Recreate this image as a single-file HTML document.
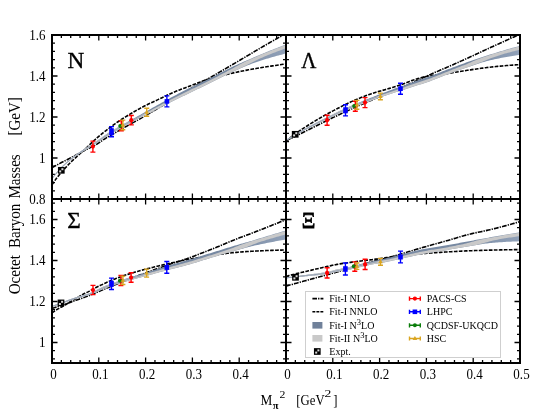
<!DOCTYPE html>
<html><head><meta charset="utf-8"><title>Octet Baryon Masses</title>
<style>
html,body{margin:0;padding:0;background:#fff;}
body{width:545px;height:418px;position:relative;overflow:hidden;font-family:"Liberation Serif",serif;}
</style></head><body>
<svg width="545" height="418" viewBox="0 0 545 418" style="position:absolute;left:0;top:0;will-change:transform">
<defs>
<clipPath id="cN"><rect x="52" y="35" width="234" height="164"/></clipPath>
<linearGradient id="gN" gradientUnits="userSpaceOnUse" x1="52" y1="0" x2="286" y2="0"><stop offset="0" stop-color="#8c9bb0"/><stop offset="0.3" stop-color="#7a8ba4"/><stop offset="0.8" stop-color="#7688a1"/><stop offset="0.9" stop-color="#8798b0"/><stop offset="1" stop-color="#90a0b7"/></linearGradient>
<clipPath id="cL"><rect x="286" y="35" width="234" height="164"/></clipPath>
<linearGradient id="gL" gradientUnits="userSpaceOnUse" x1="286" y1="0" x2="520" y2="0"><stop offset="0" stop-color="#8c9bb0"/><stop offset="0.3" stop-color="#7a8ba4"/><stop offset="0.8" stop-color="#7688a1"/><stop offset="0.9" stop-color="#8798b0"/><stop offset="1" stop-color="#90a0b7"/></linearGradient>
<clipPath id="cS"><rect x="52" y="199" width="234" height="164"/></clipPath>
<linearGradient id="gS" gradientUnits="userSpaceOnUse" x1="52" y1="0" x2="286" y2="0"><stop offset="0" stop-color="#8c9bb0"/><stop offset="0.3" stop-color="#7a8ba4"/><stop offset="0.8" stop-color="#7688a1"/><stop offset="0.9" stop-color="#8798b0"/><stop offset="1" stop-color="#90a0b7"/></linearGradient>
<clipPath id="cX"><rect x="286" y="199" width="234" height="164"/></clipPath>
<linearGradient id="gX" gradientUnits="userSpaceOnUse" x1="286" y1="0" x2="520" y2="0"><stop offset="0" stop-color="#8c9bb0"/><stop offset="0.3" stop-color="#7a8ba4"/><stop offset="0.8" stop-color="#7688a1"/><stop offset="0.9" stop-color="#8798b0"/><stop offset="1" stop-color="#90a0b7"/></linearGradient>
</defs>
<path d="M52.00,35v5.5 M52.00,193.5v11.0 M52.00,363v-5.5 M61.36,35v3.0 M61.36,196.0v6.0 M61.36,363v-3.0 M70.72,35v3.0 M70.72,196.0v6.0 M70.72,363v-3.0 M80.08,35v3.0 M80.08,196.0v6.0 M80.08,363v-3.0 M89.44,35v3.0 M89.44,196.0v6.0 M89.44,363v-3.0 M98.80,35v5.5 M98.80,193.5v11.0 M98.80,363v-5.5 M108.16,35v3.0 M108.16,196.0v6.0 M108.16,363v-3.0 M117.52,35v3.0 M117.52,196.0v6.0 M117.52,363v-3.0 M126.88,35v3.0 M126.88,196.0v6.0 M126.88,363v-3.0 M136.24,35v3.0 M136.24,196.0v6.0 M136.24,363v-3.0 M145.60,35v5.5 M145.60,193.5v11.0 M145.60,363v-5.5 M154.96,35v3.0 M154.96,196.0v6.0 M154.96,363v-3.0 M164.32,35v3.0 M164.32,196.0v6.0 M164.32,363v-3.0 M173.68,35v3.0 M173.68,196.0v6.0 M173.68,363v-3.0 M183.04,35v3.0 M183.04,196.0v6.0 M183.04,363v-3.0 M192.40,35v5.5 M192.40,193.5v11.0 M192.40,363v-5.5 M201.76,35v3.0 M201.76,196.0v6.0 M201.76,363v-3.0 M211.12,35v3.0 M211.12,196.0v6.0 M211.12,363v-3.0 M220.48,35v3.0 M220.48,196.0v6.0 M220.48,363v-3.0 M229.84,35v3.0 M229.84,196.0v6.0 M229.84,363v-3.0 M239.20,35v5.5 M239.20,193.5v11.0 M239.20,363v-5.5 M248.56,35v3.0 M248.56,196.0v6.0 M248.56,363v-3.0 M257.92,35v3.0 M257.92,196.0v6.0 M257.92,363v-3.0 M267.28,35v3.0 M267.28,196.0v6.0 M267.28,363v-3.0 M276.64,35v3.0 M276.64,196.0v6.0 M276.64,363v-3.0 M286.00,35v5.5 M286.00,193.5v11.0 M286.00,363v-5.5 M286.00,35v5.5 M286.00,193.5v11.0 M286.00,363v-5.5 M295.36,35v3.0 M295.36,196.0v6.0 M295.36,363v-3.0 M304.72,35v3.0 M304.72,196.0v6.0 M304.72,363v-3.0 M314.08,35v3.0 M314.08,196.0v6.0 M314.08,363v-3.0 M323.44,35v3.0 M323.44,196.0v6.0 M323.44,363v-3.0 M332.80,35v5.5 M332.80,193.5v11.0 M332.80,363v-5.5 M342.16,35v3.0 M342.16,196.0v6.0 M342.16,363v-3.0 M351.52,35v3.0 M351.52,196.0v6.0 M351.52,363v-3.0 M360.88,35v3.0 M360.88,196.0v6.0 M360.88,363v-3.0 M370.24,35v3.0 M370.24,196.0v6.0 M370.24,363v-3.0 M379.60,35v5.5 M379.60,193.5v11.0 M379.60,363v-5.5 M388.96,35v3.0 M388.96,196.0v6.0 M388.96,363v-3.0 M398.32,35v3.0 M398.32,196.0v6.0 M398.32,363v-3.0 M407.68,35v3.0 M407.68,196.0v6.0 M407.68,363v-3.0 M417.04,35v3.0 M417.04,196.0v6.0 M417.04,363v-3.0 M426.40,35v5.5 M426.40,193.5v11.0 M426.40,363v-5.5 M435.76,35v3.0 M435.76,196.0v6.0 M435.76,363v-3.0 M445.12,35v3.0 M445.12,196.0v6.0 M445.12,363v-3.0 M454.48,35v3.0 M454.48,196.0v6.0 M454.48,363v-3.0 M463.84,35v3.0 M463.84,196.0v6.0 M463.84,363v-3.0 M473.20,35v5.5 M473.20,193.5v11.0 M473.20,363v-5.5 M482.56,35v3.0 M482.56,196.0v6.0 M482.56,363v-3.0 M491.92,35v3.0 M491.92,196.0v6.0 M491.92,363v-3.0 M501.28,35v3.0 M501.28,196.0v6.0 M501.28,363v-3.0 M510.64,35v3.0 M510.64,196.0v6.0 M510.64,363v-3.0 M520.00,35v5.5 M520.00,193.5v11.0 M520.00,363v-5.5 M52,35.00h5.5 M280.5,35.00h11.0 M520,35.00h-5.5 M52,43.20h3.0 M283.0,43.20h6.0 M520,43.20h-3.0 M52,51.40h3.0 M283.0,51.40h6.0 M520,51.40h-3.0 M52,59.60h3.0 M283.0,59.60h6.0 M520,59.60h-3.0 M52,67.80h3.0 M283.0,67.80h6.0 M520,67.80h-3.0 M52,76.00h5.5 M280.5,76.00h11.0 M520,76.00h-5.5 M52,84.20h3.0 M283.0,84.20h6.0 M520,84.20h-3.0 M52,92.40h3.0 M283.0,92.40h6.0 M520,92.40h-3.0 M52,100.60h3.0 M283.0,100.60h6.0 M520,100.60h-3.0 M52,108.80h3.0 M283.0,108.80h6.0 M520,108.80h-3.0 M52,117.00h5.5 M280.5,117.00h11.0 M520,117.00h-5.5 M52,125.20h3.0 M283.0,125.20h6.0 M520,125.20h-3.0 M52,133.40h3.0 M283.0,133.40h6.0 M520,133.40h-3.0 M52,141.60h3.0 M283.0,141.60h6.0 M520,141.60h-3.0 M52,149.80h3.0 M283.0,149.80h6.0 M520,149.80h-3.0 M52,158.00h5.5 M280.5,158.00h11.0 M520,158.00h-5.5 M52,166.20h3.0 M283.0,166.20h6.0 M520,166.20h-3.0 M52,174.40h3.0 M283.0,174.40h6.0 M520,174.40h-3.0 M52,182.60h3.0 M283.0,182.60h6.0 M520,182.60h-3.0 M52,190.80h3.0 M283.0,190.80h6.0 M520,190.80h-3.0 M52,199.00h5.5 M280.5,199.00h11.0 M520,199.00h-5.5 M52,203.10h3.0 M283.0,203.10h6.0 M520,203.10h-3.0 M52,211.30h3.0 M283.0,211.30h6.0 M520,211.30h-3.0 M52,219.50h5.5 M280.5,219.50h11.0 M520,219.50h-5.5 M52,227.70h3.0 M283.0,227.70h6.0 M520,227.70h-3.0 M52,235.90h3.0 M283.0,235.90h6.0 M520,235.90h-3.0 M52,244.10h3.0 M283.0,244.10h6.0 M520,244.10h-3.0 M52,252.30h3.0 M283.0,252.30h6.0 M520,252.30h-3.0 M52,260.50h5.5 M280.5,260.50h11.0 M520,260.50h-5.5 M52,268.70h3.0 M283.0,268.70h6.0 M520,268.70h-3.0 M52,276.90h3.0 M283.0,276.90h6.0 M520,276.90h-3.0 M52,285.10h3.0 M283.0,285.10h6.0 M520,285.10h-3.0 M52,293.30h3.0 M283.0,293.30h6.0 M520,293.30h-3.0 M52,301.50h5.5 M280.5,301.50h11.0 M520,301.50h-5.5 M52,309.70h3.0 M283.0,309.70h6.0 M520,309.70h-3.0 M52,317.90h3.0 M283.0,317.90h6.0 M520,317.90h-3.0 M52,326.10h3.0 M283.0,326.10h6.0 M520,326.10h-3.0 M52,334.30h3.0 M283.0,334.30h6.0 M520,334.30h-3.0 M52,342.50h5.5 M280.5,342.50h11.0 M520,342.50h-5.5 M52,350.70h3.0 M283.0,350.70h6.0 M520,350.70h-3.0 M52,358.90h3.0 M283.0,358.90h6.0 M520,358.90h-3.0" stroke="#000" stroke-width="1.3" fill="none"/>
<g clip-path="url(#cN)">
<path d="M52.00,167.70 L53.50,166.87 L55.00,166.05 L56.50,165.23 L58.00,164.42 L59.50,163.62 L61.00,162.83 L62.50,162.04 L64.00,161.27 L65.50,160.51 L67.00,159.76 L68.50,159.00 L70.00,158.24 L71.50,157.47 L73.00,156.68 L74.50,155.86 L76.00,155.03 L77.50,154.19 L79.00,153.35 L80.50,152.52 L82.00,151.71 L83.50,150.93 L85.00,150.17 L86.50,149.44 L88.00,148.71 L89.50,147.99 L91.00,147.25 L92.50,146.50 L94.00,145.71 L95.50,144.89 L97.00,144.00 L98.50,143.04 L100.00,142.03 L101.50,141.00 L103.00,139.96 L104.50,138.96 L106.00,138.00 L107.50,137.10 L109.00,136.22 L110.50,135.37 L112.00,134.53 L113.50,133.68 L115.00,132.83 L116.50,131.97 L118.00,131.11 L119.50,130.24 L121.00,129.38 L122.50,128.52 L124.00,127.67 L125.50,126.81 L127.00,125.96 L128.50,125.11 L130.00,124.26 L131.50,123.43 L133.00,122.60 L134.50,121.77 L136.00,120.95 L137.50,120.13 L139.00,119.30 L140.50,118.47 L142.00,117.63 L143.50,116.79 L145.00,115.93 L146.50,115.05 L148.00,114.18 L149.50,113.29 L151.00,112.40 L152.50,111.51 L154.00,110.61 L155.50,109.71 L157.00,108.81 L158.50,107.92 L160.00,107.03 L161.50,106.13 L163.00,105.23 L164.50,104.34 L166.00,103.44 L167.50,102.54 L169.00,101.64 L170.50,100.74 L172.00,99.84 L173.50,98.94 L175.00,98.04 L176.50,97.13 L178.00,96.22 L179.50,95.30 L181.00,94.39 L182.50,93.48 L184.00,92.57 L185.50,91.66 L187.00,90.77 L188.50,89.88 L190.00,89.00 L191.50,88.13 L193.00,87.28 L194.50,86.43 L196.00,85.58 L197.50,84.75 L199.00,83.91 L200.50,83.08 L202.00,82.24 L203.50,81.41 L205.00,80.56 L206.50,79.71 L208.00,78.86 L209.50,77.99 L211.00,77.13 L212.50,76.26 L214.00,75.39 L215.50,74.52 L217.00,73.65 L218.50,72.78 L220.00,71.90 L221.50,71.02 L223.00,70.14 L224.50,69.26 L226.00,68.38 L227.50,67.50 L229.00,66.62 L230.50,65.73 L232.00,64.85 L233.50,63.97 L235.00,63.09 L236.50,62.21 L238.00,61.32 L239.50,60.44 L241.00,59.55 L242.50,58.66 L244.00,57.77 L245.50,56.88 L247.00,55.99 L248.50,55.10 L250.00,54.21 L251.50,53.32 L253.00,52.44 L254.50,51.55 L256.00,50.67 L257.50,49.79 L259.00,48.92 L260.50,48.04 L262.00,47.16 L263.50,46.29 L265.00,45.41 L266.50,44.54 L268.00,43.67 L269.50,42.80 L271.00,41.93 L272.50,41.06 L274.00,40.20 L275.50,39.35 L277.00,38.49 L278.50,37.64 L280.00,36.80 L281.50,35.96 L283.00,35.14 L284.50,34.32 L286.00,33.50" fill="none" stroke="#000" stroke-width="1.6" stroke-dasharray="4.8,1.1,1.3,1.1"/>
<path d="M52.00,184.80 L53.50,182.53 L55.00,180.37 L56.50,178.34 L58.00,176.42 L59.50,174.60 L61.00,172.83 L62.50,171.13 L64.00,169.47 L65.50,167.82 L67.00,166.17 L68.50,164.55 L70.00,163.00 L71.50,161.53 L73.00,160.11 L74.50,158.72 L76.00,157.34 L77.50,155.97 L79.00,154.61 L80.50,153.26 L82.00,151.90 L83.50,150.51 L85.00,149.12 L86.50,147.71 L88.00,146.30 L89.50,144.87 L91.00,143.42 L92.50,141.99 L94.00,140.60 L95.50,139.26 L97.00,137.94 L98.50,136.66 L100.00,135.40 L101.50,134.17 L103.00,132.96 L104.50,131.77 L106.00,130.60 L107.50,129.43 L109.00,128.26 L110.50,127.10 L112.00,125.96 L113.50,124.86 L115.00,123.79 L116.50,122.75 L118.00,121.73 L119.50,120.73 L121.00,119.74 L122.50,118.77 L124.00,117.82 L125.50,116.88 L127.00,115.96 L128.50,115.04 L130.00,114.14 L131.50,113.25 L133.00,112.37 L134.50,111.50 L136.00,110.64 L137.50,109.80 L139.00,108.96 L140.50,108.15 L142.00,107.35 L143.50,106.56 L145.00,105.79 L146.50,105.04 L148.00,104.31 L149.50,103.59 L151.00,102.89 L152.50,102.19 L154.00,101.49 L155.50,100.80 L157.00,100.10 L158.50,99.39 L160.00,98.68 L161.50,97.96 L163.00,97.24 L164.50,96.51 L166.00,95.79 L167.50,95.07 L169.00,94.37 L170.50,93.68 L172.00,93.01 L173.50,92.36 L175.00,91.73 L176.50,91.11 L178.00,90.51 L179.50,89.92 L181.00,89.34 L182.50,88.77 L184.00,88.20 L185.50,87.63 L187.00,87.07 L188.50,86.51 L190.00,85.95 L191.50,85.39 L193.00,84.82 L194.50,84.24 L196.00,83.65 L197.50,83.07 L199.00,82.48 L200.50,81.91 L202.00,81.35 L203.50,80.80 L205.00,80.28 L206.50,79.78 L208.00,79.32 L209.50,78.87 L211.00,78.43 L212.50,78.01 L214.00,77.60 L215.50,77.21 L217.00,76.82 L218.50,76.44 L220.00,76.06 L221.50,75.69 L223.00,75.33 L224.50,74.97 L226.00,74.61 L227.50,74.25 L229.00,73.90 L230.50,73.54 L232.00,73.19 L233.50,72.85 L235.00,72.52 L236.50,72.19 L238.00,71.88 L239.50,71.56 L241.00,71.26 L242.50,70.96 L244.00,70.67 L245.50,70.38 L247.00,70.10 L248.50,69.83 L250.00,69.57 L251.50,69.32 L253.00,69.07 L254.50,68.81 L256.00,68.56 L257.50,68.30 L259.00,68.05 L260.50,67.79 L262.00,67.54 L263.50,67.30 L265.00,67.05 L266.50,66.81 L268.00,66.57 L269.50,66.34 L271.00,66.11 L272.50,65.88 L274.00,65.65 L275.50,65.42 L277.00,65.20 L278.50,64.98 L280.00,64.76 L281.50,64.54 L283.00,64.33 L284.50,64.11 L286.00,63.90" fill="none" stroke="#000" stroke-width="1.6" stroke-dasharray="3.7,1.3"/>
<path d="M52.00,178.30 L53.50,176.31 L55.00,174.39 L56.50,172.55 L58.00,170.77 L59.50,169.05 L61.00,167.42 L62.50,165.91 L64.00,164.47 L65.50,163.08 L67.00,161.75 L68.50,160.46 L70.00,159.22 L71.50,158.01 L73.00,156.83 L74.50,155.69 L76.00,154.60 L77.50,153.53 L79.00,152.48 L80.50,151.45 L82.00,150.43 L83.50,149.43 L85.00,148.46 L86.50,147.51 L88.00,146.58 L89.50,145.65 L91.00,144.73 L92.50,143.80 L94.00,142.85 L95.50,141.87 L97.00,140.86 L98.50,139.81 L100.00,138.73 L101.50,137.64 L103.00,136.56 L104.50,135.51 L106.00,134.49 L107.50,133.51 L109.00,132.55 L110.50,131.61 L112.00,130.69 L113.50,129.79 L115.00,128.90 L116.50,128.02 L118.00,127.16 L119.50,126.31 L121.00,125.47 L122.50,124.64 L124.00,123.81 L125.50,122.99 L127.00,122.16 L128.50,121.33 L130.00,120.49 L131.50,119.65 L133.00,118.81 L134.50,117.98 L136.00,117.14 L137.50,116.30 L139.00,115.46 L140.50,114.63 L142.00,113.79 L143.50,112.94 L145.00,112.09 L146.50,111.24 L148.00,110.39 L149.50,109.54 L151.00,108.69 L152.50,107.85 L154.00,107.00 L155.50,106.16 L157.00,105.32 L158.50,104.48 L160.00,103.64 L161.50,102.80 L163.00,101.97 L164.50,101.13 L166.00,100.30 L167.50,99.47 L169.00,98.65 L170.50,97.83 L172.00,97.02 L173.50,96.22 L175.00,95.43 L176.50,94.64 L178.00,93.86 L179.50,93.08 L181.00,92.31 L182.50,91.56 L184.00,90.82 L185.50,90.09 L187.00,89.36 L188.50,88.62 L190.00,87.89 L191.50,87.16 L193.00,86.43 L194.50,85.70 L196.00,84.98 L197.50,84.26 L199.00,83.54 L200.50,82.81 L202.00,82.09 L203.50,81.37 L205.00,80.64 L206.50,79.91 L208.00,79.17 L209.50,78.43 L211.00,77.68 L212.50,76.92 L214.00,76.16 L215.50,75.39 L217.00,74.62 L218.50,73.85 L220.00,73.08 L221.50,72.31 L223.00,71.54 L224.50,70.77 L226.00,70.00 L227.50,69.24 L229.00,68.49 L230.50,67.75 L232.00,67.02 L233.50,66.30 L235.00,65.59 L236.50,64.90 L238.00,64.22 L239.50,63.55 L241.00,62.88 L242.50,62.22 L244.00,61.57 L245.50,60.93 L247.00,60.29 L248.50,59.66 L250.00,59.04 L251.50,58.42 L253.00,57.78 L254.50,57.12 L256.00,56.47 L257.50,55.83 L259.00,55.20 L260.50,54.57 L262.00,53.94 L263.50,53.32 L265.00,52.71 L266.50,52.10 L268.00,51.48 L269.50,50.87 L271.00,50.26 L272.50,49.65 L274.00,49.06 L275.50,48.46 L277.00,47.88 L278.50,47.30 L280.00,46.72 L281.50,46.16 L283.00,45.60 L284.50,45.05 L286.00,44.50 L286.00,53.50 L284.50,53.87 L283.00,54.25 L281.50,54.64 L280.00,55.03 L278.50,55.43 L277.00,55.83 L275.50,56.25 L274.00,56.67 L272.50,57.09 L271.00,57.52 L269.50,57.96 L268.00,58.40 L266.50,58.85 L265.00,59.32 L263.50,59.80 L262.00,60.28 L260.50,60.76 L259.00,61.25 L257.50,61.75 L256.00,62.25 L254.50,62.76 L253.00,63.27 L251.50,63.82 L250.00,64.41 L248.50,65.00 L247.00,65.61 L245.50,66.22 L244.00,66.84 L242.50,67.47 L241.00,68.10 L239.50,68.74 L238.00,69.39 L236.50,70.05 L235.00,70.71 L233.50,71.39 L232.00,72.08 L230.50,72.79 L229.00,73.51 L227.50,74.23 L226.00,74.97 L224.50,75.71 L223.00,76.46 L221.50,77.21 L220.00,77.98 L218.50,78.74 L217.00,79.51 L215.50,80.27 L214.00,81.04 L212.50,81.80 L211.00,82.55 L209.50,83.30 L208.00,84.04 L206.50,84.77 L205.00,85.50 L203.50,86.22 L202.00,86.94 L200.50,87.66 L199.00,88.38 L197.50,89.10 L196.00,89.81 L194.50,90.53 L193.00,91.26 L191.50,91.98 L190.00,92.71 L188.50,93.44 L187.00,94.17 L185.50,94.90 L184.00,95.63 L182.50,96.36 L181.00,97.07 L179.50,97.78 L178.00,98.50 L176.50,99.22 L175.00,99.95 L173.50,100.68 L172.00,101.42 L170.50,102.17 L169.00,102.93 L167.50,103.69 L166.00,104.46 L164.50,105.23 L163.00,106.01 L161.50,106.78 L160.00,107.56 L158.50,108.34 L157.00,109.12 L155.50,109.90 L154.00,110.68 L152.50,111.47 L151.00,112.25 L149.50,113.04 L148.00,113.83 L146.50,114.62 L145.00,115.41 L143.50,116.20 L142.00,116.99 L140.50,117.80 L139.00,118.60 L137.50,119.41 L136.00,120.22 L134.50,121.03 L133.00,121.83 L131.50,122.64 L130.00,123.45 L128.50,124.26 L127.00,125.06 L125.50,125.86 L124.00,126.65 L122.50,127.45 L121.00,128.25 L119.50,129.06 L118.00,129.88 L116.50,130.71 L115.00,131.56 L113.50,132.42 L112.00,133.29 L110.50,134.17 L109.00,135.06 L107.50,135.97 L106.00,136.91 L104.50,137.88 L103.00,138.89 L101.50,139.93 L100.00,140.97 L98.50,142.00 L97.00,143.01 L95.50,143.98 L94.00,144.91 L92.50,145.81 L91.00,146.70 L89.50,147.57 L88.00,148.44 L86.50,149.33 L85.00,150.22 L83.50,151.14 L82.00,152.10 L80.50,153.06 L79.00,154.05 L77.50,155.05 L76.00,156.08 L74.50,157.14 L73.00,158.25 L71.50,159.40 L70.00,160.58 L68.50,161.79 L67.00,163.05 L65.50,164.35 L64.00,165.71 L62.50,167.12 L61.00,168.60 L59.50,170.20 L58.00,171.89 L56.50,173.64 L55.00,175.45 L53.50,177.34 L52.00,179.30Z" fill="url(#gN)"/>
<path d="M52.00,178.30 L53.50,176.31 L55.00,174.39 L56.50,172.55 L58.00,170.77 L59.50,169.05 L61.00,167.42 L62.50,165.91 L64.00,164.47 L65.50,163.08 L67.00,161.75 L68.50,160.46 L70.00,159.22 L71.50,158.01 L73.00,156.83 L74.50,155.69 L76.00,154.60 L77.50,153.53 L79.00,152.48 L80.50,151.45 L82.00,150.43 L83.50,149.43 L85.00,148.46 L86.50,147.51 L88.00,146.58 L89.50,145.65 L91.00,144.73 L92.50,143.80 L94.00,142.85 L95.50,141.87 L97.00,140.86 L98.50,139.81 L100.00,138.73 L101.50,137.64 L103.00,136.56 L104.50,135.51 L106.00,134.49 L107.50,133.51 L109.00,132.55 L110.50,131.61 L112.00,130.69 L113.50,129.83 L115.00,128.99 L116.50,128.17 L118.00,127.36 L119.50,126.56 L121.00,125.77 L122.50,125.00 L124.00,124.22 L125.50,123.45 L127.00,122.68 L128.50,121.91 L130.00,121.13 L131.50,120.35 L133.00,119.57 L134.50,118.80 L136.00,118.02 L137.50,117.25 L139.00,116.45 L140.50,115.66 L142.00,114.87 L143.50,114.08 L145.00,113.29 L146.50,112.50 L148.00,111.71 L149.50,110.92 L151.00,110.14 L152.50,109.35 L154.00,108.57 L155.50,107.80 L157.00,107.03 L158.50,106.21 L160.00,105.40 L161.50,104.59 L163.00,103.79 L164.50,102.98 L166.00,102.17 L167.50,101.37 L169.00,100.57 L170.50,99.78 L172.00,99.00 L173.50,98.23 L175.00,97.46 L176.50,96.70 L178.00,95.95 L179.50,95.20 L181.00,94.46 L182.50,93.72 L184.00,92.98 L185.50,92.25 L187.00,91.52 L188.50,90.79 L190.00,90.06 L191.50,89.33 L193.00,88.60 L194.50,87.88 L196.00,87.16 L197.50,86.44 L199.00,85.72 L200.50,85.00 L202.00,84.27 L203.50,83.55 L205.00,82.83 L206.50,82.10 L208.00,81.36 L209.50,80.62 L211.00,79.87 L212.50,79.10 L214.00,78.30 L215.50,77.50 L217.00,76.70 L218.50,75.89 L220.00,75.09 L221.50,74.28 L223.00,73.48 L224.50,72.68 L226.00,71.89 L227.50,71.10 L229.00,70.32 L230.50,69.55 L232.00,68.79 L233.50,67.93 L235.00,67.08 L236.50,66.24 L238.00,65.41 L239.50,64.59 L241.00,63.77 L242.50,62.99 L244.00,62.27 L245.50,61.56 L247.00,60.86 L248.50,60.16 L250.00,59.47 L251.50,58.84 L253.00,58.19 L254.50,57.54 L256.00,56.89 L257.50,56.24 L259.00,55.61 L260.50,54.98 L262.00,54.36 L263.50,53.74 L265.00,53.12 L266.50,52.51 L268.00,51.90 L269.50,51.28 L271.00,50.68 L272.50,50.08 L274.00,49.48 L275.50,48.90 L277.00,48.31 L278.50,47.74 L280.00,47.17 L281.50,46.60 L283.00,46.04 L284.50,45.49 L286.00,44.95 L286.00,48.28 L284.50,48.82 L283.00,49.37 L281.50,49.92 L280.00,50.47 L278.50,51.03 L277.00,51.60 L275.50,52.16 L274.00,52.73 L272.50,53.31 L271.00,53.88 L269.50,54.46 L268.00,55.04 L266.50,55.66 L265.00,56.32 L263.50,56.98 L262.00,57.65 L260.50,58.31 L259.00,58.98 L257.50,59.64 L256.00,60.39 L254.50,61.19 L253.00,61.98 L251.50,62.78 L250.00,63.60 L248.50,64.32 L247.00,65.05 L245.50,65.78 L244.00,66.52 L242.50,67.27 L241.00,67.96 L239.50,68.63 L238.00,69.30 L236.50,69.98 L235.00,70.67 L233.50,71.37 L232.00,72.08 L230.50,72.79 L229.00,73.51 L227.50,74.23 L226.00,74.97 L224.50,75.71 L223.00,76.46 L221.50,77.21 L220.00,77.98 L218.50,78.74 L217.00,79.51 L215.50,80.27 L214.00,81.04 L212.50,81.80 L211.00,82.55 L209.50,83.30 L208.00,84.04 L206.50,84.77 L205.00,85.50 L203.50,86.22 L202.00,86.94 L200.50,87.66 L199.00,88.38 L197.50,89.10 L196.00,89.81 L194.50,90.53 L193.00,91.26 L191.50,91.98 L190.00,92.71 L188.50,93.44 L187.00,94.17 L185.50,94.90 L184.00,95.63 L182.50,96.36 L181.00,97.07 L179.50,97.78 L178.00,98.50 L176.50,99.22 L175.00,99.95 L173.50,100.68 L172.00,101.42 L170.50,102.17 L169.00,102.93 L167.50,103.69 L166.00,104.46 L164.50,105.23 L163.00,106.01 L161.50,106.78 L160.00,107.56 L158.50,108.34 L157.00,109.12 L155.50,109.90 L154.00,110.68 L152.50,111.47 L151.00,112.25 L149.50,113.04 L148.00,113.83 L146.50,114.62 L145.00,115.41 L143.50,116.20 L142.00,116.99 L140.50,117.80 L139.00,118.60 L137.50,119.41 L136.00,120.22 L134.50,121.03 L133.00,121.83 L131.50,122.64 L130.00,123.45 L128.50,124.26 L127.00,125.06 L125.50,125.86 L124.00,126.65 L122.50,127.45 L121.00,128.25 L119.50,129.06 L118.00,129.88 L116.50,130.71 L115.00,131.56 L113.50,132.42 L112.00,133.29 L110.50,134.17 L109.00,135.06 L107.50,135.97 L106.00,136.91 L104.50,137.88 L103.00,138.89 L101.50,139.93 L100.00,140.97 L98.50,142.00 L97.00,143.01 L95.50,143.98 L94.00,144.91 L92.50,145.81 L91.00,146.70 L89.50,147.57 L88.00,148.44 L86.50,149.33 L85.00,150.22 L83.50,151.14 L82.00,152.10 L80.50,153.06 L79.00,154.05 L77.50,155.05 L76.00,156.08 L74.50,157.14 L73.00,158.25 L71.50,159.40 L70.00,160.58 L68.50,161.79 L67.00,163.05 L65.50,164.35 L64.00,165.71 L62.50,167.12 L61.00,168.60 L59.50,170.20 L58.00,171.89 L56.50,173.64 L55.00,175.45 L53.50,177.34 L52.00,179.30Z" fill="#c9c9c9"/>
<path d="M52.00,178.35 L53.50,176.37 L55.00,174.47 L56.50,172.64 L58.00,170.88 L59.50,169.18 L61.00,167.56 L62.50,166.06 L64.00,164.64 L65.50,163.27 L67.00,161.95 L68.50,160.68 L70.00,159.45 L71.50,158.25 L73.00,157.09 L74.50,155.97 L76.00,154.89 L77.50,153.84 L79.00,152.81 L80.50,151.81 L82.00,150.81 L83.50,149.84 L85.00,148.89 L86.50,147.97 L88.00,147.06 L89.50,146.16 L91.00,145.26 L92.50,144.35 L94.00,143.43 L95.50,142.47 L97.00,141.49 L98.50,140.46 L100.00,139.40 L101.50,138.34 L103.00,137.28 L104.50,136.24 L106.00,135.25 L107.50,134.29 L109.00,133.36 L110.50,132.44 L112.00,131.54 L113.50,130.65 L115.00,129.78 L116.50,128.92 L118.00,128.07 L119.50,127.24 L121.00,126.41 L122.50,125.60 L124.00,124.78 L125.50,123.97 L127.00,123.16 L128.50,122.34 L130.00,121.52 L131.50,120.70 L133.00,119.87 L134.50,119.05 L136.00,118.23 L137.50,117.41 L139.00,116.58 L140.50,115.76 L142.00,114.94 L143.50,114.12 L143.50,115.02 L142.00,115.84 L140.50,116.66 L139.00,117.48 L137.50,118.31 L136.00,119.13 L134.50,119.95 L133.00,120.77 L131.50,121.60 L130.00,122.42 L128.50,123.24 L127.00,124.06 L125.50,124.87 L124.00,125.68 L122.50,126.50 L121.00,127.31 L119.50,128.14 L118.00,128.97 L116.50,129.82 L115.00,130.68 L113.50,131.55 L112.00,132.44 L110.50,133.34 L109.00,134.26 L107.50,135.19 L106.00,136.15 L104.50,137.14 L103.00,138.18 L101.50,139.24 L100.00,140.30 L98.50,141.36 L97.00,142.39 L95.50,143.37 L94.00,144.33 L92.50,145.25 L91.00,146.16 L89.50,147.06 L88.00,147.96 L86.50,148.87 L85.00,149.79 L83.50,150.74 L82.00,151.71 L80.50,152.71 L79.00,153.71 L77.50,154.74 L76.00,155.79 L74.50,156.87 L73.00,157.99 L71.50,159.15 L70.00,160.35 L68.50,161.58 L67.00,162.85 L65.50,164.17 L64.00,165.54 L62.50,166.96 L61.00,168.46 L59.50,170.08 L58.00,171.78 L56.50,173.54 L55.00,175.37 L53.50,177.27 L52.00,179.25Z" fill="#92a0b4"/>
<path d="M92.90,141.10V152.10 M90.40,141.10h5 M90.40,152.10h5" stroke="#ff0000" stroke-width="1.4" fill="none"/>
<circle cx="92.90" cy="146.60" r="2.1" fill="#ff0000"/>
<path d="M121.30,120.80V130.80 M118.80,120.80h5 M118.80,130.80h5" stroke="#ff0000" stroke-width="1.4" fill="none"/>
<circle cx="121.30" cy="125.80" r="2.1" fill="#ff0000"/>
<path d="M131.30,115.50V124.90 M128.80,115.50h5 M128.80,124.90h5" stroke="#ff0000" stroke-width="1.4" fill="none"/>
<circle cx="131.30" cy="120.20" r="2.1" fill="#ff0000"/>
<path d="M111.50,126.60V136.80 M109.00,126.60h5 M109.00,136.80h5" stroke="#0000ff" stroke-width="1.4" fill="none"/>
<rect x="109.20" y="128.20" width="4.6" height="7.00" fill="#0000ff"/>
<path d="M166.90,95.90V106.90 M164.40,95.90h5 M164.40,106.90h5" stroke="#0000ff" stroke-width="1.4" fill="none"/>
<rect x="164.60" y="99.10" width="4.6" height="4.60" fill="#0000ff"/>
<circle cx="120.20" cy="126.10" r="2.0" fill="#0a7d0a"/>
<path d="M122.80,120.10V129.70 M120.30,120.10h5 M120.30,129.70h5" stroke="#daa520" stroke-width="1.4" fill="none"/>
<path d="M122.80,122.50 l2.3,3.9 l-4.6,0z" fill="#daa520"/>
<path d="M146.70,108.20V116.20 M144.20,108.20h5 M144.20,116.20h5" stroke="#daa520" stroke-width="1.4" fill="none"/>
<path d="M146.70,109.80 l2.3,3.9 l-4.6,0z" fill="#daa520"/>
<rect x="57.95" y="166.95" width="6.70" height="6.70" fill="#000"/><rect x="61.40" y="168.20" width="2" height="2" fill="#d8d8d8"/><rect x="59.20" y="170.40" width="2" height="2" fill="#d8d8d8"/>
</g>
<g clip-path="url(#cL)">
<path d="M286.00,140.80 L287.50,140.10 L289.00,139.39 L290.50,138.67 L292.00,137.96 L293.50,137.23 L295.00,136.50 L296.50,135.76 L298.00,135.02 L299.50,134.26 L301.00,133.51 L302.50,132.75 L304.00,132.00 L305.50,131.25 L307.00,130.50 L308.50,129.74 L310.00,128.99 L311.50,128.23 L313.00,127.47 L314.50,126.72 L316.00,125.97 L317.50,125.21 L319.00,124.46 L320.50,123.71 L322.00,122.97 L323.50,122.23 L325.00,121.49 L326.50,120.76 L328.00,120.02 L329.50,119.29 L331.00,118.56 L332.50,117.84 L334.00,117.11 L335.50,116.39 L337.00,115.67 L338.50,114.95 L340.00,114.24 L341.50,113.53 L343.00,112.82 L344.50,112.12 L346.00,111.42 L347.50,110.73 L349.00,110.04 L350.50,109.36 L352.00,108.68 L353.50,108.01 L355.00,107.34 L356.50,106.68 L358.00,106.02 L359.50,105.36 L361.00,104.70 L362.50,104.05 L364.00,103.40 L365.50,102.74 L367.00,102.10 L368.50,101.45 L370.00,100.80 L371.50,100.15 L373.00,99.51 L374.50,98.87 L376.00,98.23 L377.50,97.60 L379.00,96.96 L380.50,96.33 L382.00,95.70 L383.50,95.07 L385.00,94.44 L386.50,93.81 L388.00,93.18 L389.50,92.55 L391.00,91.92 L392.50,91.29 L394.00,90.66 L395.50,90.04 L397.00,89.41 L398.50,88.79 L400.00,88.16 L401.50,87.52 L403.00,86.87 L404.50,86.21 L406.00,85.55 L407.50,84.88 L409.00,84.21 L410.50,83.53 L412.00,82.86 L413.50,82.18 L415.00,81.50 L416.50,80.82 L418.00,80.13 L419.50,79.43 L421.00,78.74 L422.50,78.04 L424.00,77.34 L425.50,76.65 L427.00,75.96 L428.50,75.28 L430.00,74.61 L431.50,73.95 L433.00,73.30 L434.50,72.66 L436.00,72.02 L437.50,71.38 L439.00,70.75 L440.50,70.11 L442.00,69.48 L443.50,68.84 L445.00,68.19 L446.50,67.54 L448.00,66.88 L449.50,66.22 L451.00,65.56 L452.50,64.90 L454.00,64.24 L455.50,63.57 L457.00,62.91 L458.50,62.24 L460.00,61.57 L461.50,60.89 L463.00,60.22 L464.50,59.55 L466.00,58.87 L467.50,58.19 L469.00,57.51 L470.50,56.83 L472.00,56.14 L473.50,55.45 L475.00,54.75 L476.50,54.06 L478.00,53.36 L479.50,52.66 L481.00,51.96 L482.50,51.26 L484.00,50.56 L485.50,49.86 L487.00,49.17 L488.50,48.47 L490.00,47.78 L491.50,47.09 L493.00,46.41 L494.50,45.72 L496.00,45.04 L497.50,44.36 L499.00,43.67 L500.50,42.99 L502.00,42.32 L503.50,41.64 L505.00,40.96 L506.50,40.28 L508.00,39.61 L509.50,38.93 L511.00,38.25 L512.50,37.58 L514.00,36.90 L515.50,36.23 L517.00,35.55 L518.50,34.87 L520.00,34.20" fill="none" stroke="#000" stroke-width="1.6" stroke-dasharray="4.8,1.1,1.3,1.1"/>
<path d="M286.00,141.50 L287.50,140.18 L289.00,138.88 L290.50,137.62 L292.00,136.38 L293.50,135.16 L295.00,134.00 L296.50,132.89 L298.00,131.83 L299.50,130.80 L301.00,129.81 L302.50,128.85 L304.00,127.90 L305.50,126.95 L307.00,125.99 L308.50,125.05 L310.00,124.10 L311.50,123.17 L313.00,122.24 L314.50,121.33 L316.00,120.41 L317.50,119.51 L319.00,118.61 L320.50,117.72 L322.00,116.84 L323.50,115.98 L325.00,115.14 L326.50,114.32 L328.00,113.51 L329.50,112.71 L331.00,111.92 L332.50,111.13 L334.00,110.36 L335.50,109.58 L337.00,108.80 L338.50,108.02 L340.00,107.23 L341.50,106.44 L343.00,105.66 L344.50,104.89 L346.00,104.15 L347.50,103.43 L349.00,102.74 L350.50,102.06 L352.00,101.39 L353.50,100.73 L355.00,100.08 L356.50,99.44 L358.00,98.80 L359.50,98.18 L361.00,97.58 L362.50,96.98 L364.00,96.40 L365.50,95.83 L367.00,95.27 L368.50,94.73 L370.00,94.20 L371.50,93.69 L373.00,93.20 L374.50,92.73 L376.00,92.27 L377.50,91.83 L379.00,91.39 L380.50,90.96 L382.00,90.53 L383.50,90.11 L385.00,89.68 L386.50,89.25 L388.00,88.82 L389.50,88.37 L391.00,87.91 L392.50,87.44 L394.00,86.96 L395.50,86.48 L397.00,85.99 L398.50,85.49 L400.00,84.99 L401.50,84.47 L403.00,83.94 L404.50,83.38 L406.00,82.80 L407.50,82.21 L409.00,81.63 L410.50,81.05 L412.00,80.50 L413.50,79.98 L415.00,79.50 L416.50,79.05 L418.00,78.62 L419.50,78.19 L421.00,77.78 L422.50,77.39 L424.00,77.01 L425.50,76.66 L427.00,76.34 L428.50,76.04 L430.00,75.77 L431.50,75.52 L433.00,75.30 L434.50,75.10 L436.00,74.91 L437.50,74.73 L439.00,74.56 L440.50,74.38 L442.00,74.20 L443.50,74.02 L445.00,73.82 L446.50,73.61 L448.00,73.39 L449.50,73.17 L451.00,72.94 L452.50,72.70 L454.00,72.46 L455.50,72.21 L457.00,71.97 L458.50,71.72 L460.00,71.48 L461.50,71.23 L463.00,70.99 L464.50,70.75 L466.00,70.52 L467.50,70.29 L469.00,70.07 L470.50,69.85 L472.00,69.63 L473.50,69.41 L475.00,69.19 L476.50,68.97 L478.00,68.75 L479.50,68.54 L481.00,68.33 L482.50,68.12 L484.00,67.92 L485.50,67.73 L487.00,67.54 L488.50,67.36 L490.00,67.18 L491.50,67.02 L493.00,66.86 L494.50,66.71 L496.00,66.56 L497.50,66.41 L499.00,66.26 L500.50,66.12 L502.00,65.98 L503.50,65.84 L505.00,65.70 L506.50,65.57 L508.00,65.45 L509.50,65.32 L511.00,65.21 L512.50,65.09 L514.00,64.98 L515.50,64.88 L517.00,64.78 L518.50,64.69 L520.00,64.60" fill="none" stroke="#000" stroke-width="1.6" stroke-dasharray="3.7,1.3"/>
<path d="M286.00,140.00 L287.50,139.04 L289.00,138.09 L290.50,137.15 L292.00,136.23 L293.50,135.31 L295.00,134.41 L296.50,133.52 L298.00,132.64 L299.50,131.76 L301.00,130.90 L302.50,130.06 L304.00,129.22 L305.50,128.40 L307.00,127.59 L308.50,126.79 L310.00,126.00 L311.50,125.21 L313.00,124.42 L314.50,123.63 L316.00,122.84 L317.50,122.06 L319.00,121.27 L320.50,120.50 L322.00,119.73 L323.50,118.96 L325.00,118.20 L326.50,117.45 L328.00,116.71 L329.50,115.96 L331.00,115.22 L332.50,114.48 L334.00,113.75 L335.50,113.02 L337.00,112.30 L338.50,111.58 L340.00,110.86 L341.50,110.15 L343.00,109.45 L344.50,108.76 L346.00,108.07 L347.50,107.40 L349.00,106.74 L350.50,106.08 L352.00,105.44 L353.50,104.80 L355.00,104.16 L356.50,103.53 L358.00,102.91 L359.50,102.29 L361.00,101.67 L362.50,101.06 L364.00,100.45 L365.50,99.85 L367.00,99.25 L368.50,98.65 L370.00,98.06 L371.50,97.47 L373.00,96.88 L374.50,96.29 L376.00,95.71 L377.50,95.11 L379.00,94.52 L380.50,93.94 L382.00,93.35 L383.50,92.77 L385.00,92.20 L386.50,91.63 L388.00,91.06 L389.50,90.50 L391.00,89.95 L392.50,89.40 L394.00,88.86 L395.50,88.34 L397.00,87.82 L398.50,87.30 L400.00,86.78 L401.50,86.26 L403.00,85.72 L404.50,85.18 L406.00,84.63 L407.50,84.07 L409.00,83.52 L410.50,82.96 L412.00,82.41 L413.50,81.86 L415.00,81.32 L416.50,80.80 L418.00,80.30 L419.50,79.82 L421.00,79.33 L422.50,78.85 L424.00,78.36 L425.50,77.86 L427.00,77.36 L428.50,76.84 L430.00,76.31 L431.50,75.76 L433.00,75.19 L434.50,74.60 L436.00,74.01 L437.50,73.40 L439.00,72.80 L440.50,72.19 L442.00,71.59 L443.50,70.99 L445.00,70.41 L446.50,69.84 L448.00,69.27 L449.50,68.70 L451.00,68.14 L452.50,67.58 L454.00,67.02 L455.50,66.46 L457.00,65.90 L458.50,65.34 L460.00,64.79 L461.50,64.24 L463.00,63.69 L464.50,63.16 L466.00,62.62 L467.50,62.09 L469.00,61.57 L470.50,61.06 L472.00,60.54 L473.50,60.03 L475.00,59.51 L476.50,59.00 L478.00,58.50 L479.50,58.00 L481.00,57.51 L482.50,57.02 L484.00,56.55 L485.50,56.08 L487.00,55.58 L488.50,55.07 L490.00,54.58 L491.50,54.10 L493.00,53.63 L494.50,53.16 L496.00,52.69 L497.50,52.24 L499.00,51.78 L500.50,51.34 L502.00,50.88 L503.50,50.43 L505.00,49.98 L506.50,49.54 L508.00,49.11 L509.50,48.68 L511.00,48.26 L512.50,47.85 L514.00,47.44 L515.50,47.05 L517.00,46.66 L518.50,46.27 L520.00,45.90 L520.00,54.90 L518.50,55.10 L517.00,55.31 L515.50,55.52 L514.00,55.75 L512.50,55.98 L511.00,56.22 L509.50,56.47 L508.00,56.72 L506.50,56.98 L505.00,57.25 L503.50,57.52 L502.00,57.80 L500.50,58.09 L499.00,58.40 L497.50,58.71 L496.00,59.03 L494.50,59.35 L493.00,59.68 L491.50,60.01 L490.00,60.35 L488.50,60.71 L487.00,61.07 L485.50,61.47 L484.00,61.91 L482.50,62.37 L481.00,62.83 L479.50,63.29 L478.00,63.77 L476.50,64.25 L475.00,64.73 L473.50,65.22 L472.00,65.71 L470.50,66.20 L469.00,66.69 L467.50,67.19 L466.00,67.69 L464.50,68.20 L463.00,68.71 L461.50,69.23 L460.00,69.76 L458.50,70.29 L457.00,70.82 L455.50,71.36 L454.00,71.91 L452.50,72.47 L451.00,73.03 L449.50,73.59 L448.00,74.15 L446.50,74.71 L445.00,75.28 L443.50,75.86 L442.00,76.45 L440.50,77.05 L439.00,77.65 L437.50,78.26 L436.00,78.86 L434.50,79.45 L433.00,80.03 L431.50,80.60 L430.00,81.15 L428.50,81.67 L427.00,82.19 L425.50,82.69 L424.00,83.18 L422.50,83.66 L421.00,84.14 L419.50,84.62 L418.00,85.11 L416.50,85.60 L415.00,86.08 L413.50,86.56 L412.00,87.05 L410.50,87.54 L409.00,88.04 L407.50,88.53 L406.00,89.03 L404.50,89.52 L403.00,90.00 L401.50,90.48 L400.00,90.94 L398.50,91.40 L397.00,91.86 L395.50,92.32 L394.00,92.78 L392.50,93.26 L391.00,93.75 L389.50,94.24 L388.00,94.74 L386.50,95.25 L385.00,95.76 L383.50,96.27 L382.00,96.79 L380.50,97.32 L379.00,97.84 L377.50,98.37 L376.00,98.91 L374.50,99.46 L373.00,100.02 L371.50,100.58 L370.00,101.14 L368.50,101.70 L367.00,102.27 L365.50,102.84 L364.00,103.41 L362.50,103.99 L361.00,104.57 L359.50,105.16 L358.00,105.75 L356.50,106.34 L355.00,106.94 L353.50,107.55 L352.00,108.16 L350.50,108.77 L349.00,109.40 L347.50,110.03 L346.00,110.67 L344.50,111.31 L343.00,111.96 L341.50,112.62 L340.00,113.28 L338.50,113.95 L337.00,114.63 L335.50,115.31 L334.00,115.99 L332.50,116.68 L331.00,117.37 L329.50,118.07 L328.00,118.77 L326.50,119.47 L325.00,120.17 L323.50,120.88 L322.00,121.59 L320.50,122.31 L319.00,123.04 L317.50,123.77 L316.00,124.51 L314.50,125.25 L313.00,125.99 L311.50,126.73 L310.00,127.48 L308.50,128.24 L307.00,129.01 L305.50,129.79 L304.00,130.58 L302.50,131.39 L301.00,132.20 L299.50,133.03 L298.00,133.88 L296.50,134.73 L295.00,135.59 L293.50,136.46 L292.00,137.35 L290.50,138.24 L289.00,139.15 L287.50,140.07 L286.00,141.00Z" fill="url(#gL)"/>
<path d="M286.00,140.00 L287.50,139.04 L289.00,138.09 L290.50,137.15 L292.00,136.23 L293.50,135.31 L295.00,134.41 L296.50,133.52 L298.00,132.64 L299.50,131.76 L301.00,130.90 L302.50,130.06 L304.00,129.22 L305.50,128.40 L307.00,127.59 L308.50,126.79 L310.00,126.00 L311.50,125.21 L313.00,124.42 L314.50,123.63 L316.00,122.84 L317.50,122.06 L319.00,121.27 L320.50,120.50 L322.00,119.73 L323.50,118.96 L325.00,118.20 L326.50,117.45 L328.00,116.71 L329.50,115.96 L331.00,115.22 L332.50,114.48 L334.00,113.75 L335.50,113.02 L337.00,112.30 L338.50,111.58 L340.00,110.86 L341.50,110.15 L343.00,109.45 L344.50,108.76 L346.00,108.07 L347.50,107.45 L349.00,106.84 L350.50,106.23 L352.00,105.63 L353.50,105.04 L355.00,104.46 L356.50,103.88 L358.00,103.31 L359.50,102.75 L361.00,102.19 L362.50,101.64 L364.00,101.09 L365.50,100.55 L367.00,100.01 L368.50,99.48 L370.00,98.95 L371.50,98.41 L373.00,97.87 L374.50,97.33 L376.00,96.79 L377.50,96.25 L379.00,95.72 L380.50,95.19 L382.00,94.67 L383.50,94.15 L385.00,93.64 L386.50,93.13 L388.00,92.64 L389.50,92.14 L391.00,91.66 L392.50,91.14 L394.00,90.63 L395.50,90.13 L397.00,89.64 L398.50,89.15 L400.00,88.66 L401.50,88.16 L403.00,87.65 L404.50,87.13 L406.00,86.61 L407.50,86.08 L409.00,85.55 L410.50,85.02 L412.00,84.50 L413.50,83.98 L415.00,83.46 L416.50,82.96 L418.00,82.47 L419.50,81.98 L421.00,81.50 L422.50,81.01 L424.00,80.53 L425.50,80.03 L427.00,79.53 L428.50,79.02 L430.00,78.49 L431.50,77.94 L433.00,77.37 L434.50,76.78 L436.00,76.19 L437.50,75.59 L439.00,74.98 L440.50,74.38 L442.00,73.77 L443.50,73.18 L445.00,72.60 L446.50,72.02 L448.00,71.42 L449.50,70.82 L451.00,70.22 L452.50,69.62 L454.00,69.03 L455.50,68.44 L457.00,67.85 L458.50,67.26 L460.00,66.68 L461.50,66.10 L463.00,65.53 L464.50,64.96 L466.00,64.39 L467.50,63.72 L469.00,63.06 L470.50,62.39 L472.00,61.73 L473.50,61.06 L475.00,60.40 L476.50,59.77 L478.00,59.20 L479.50,58.63 L481.00,58.07 L482.50,57.52 L484.00,56.98 L485.50,56.50 L487.00,56.00 L488.50,55.49 L490.00,54.99 L491.50,54.51 L493.00,54.04 L494.50,53.57 L496.00,53.11 L497.50,52.65 L499.00,52.19 L500.50,51.74 L502.00,51.29 L503.50,50.85 L505.00,50.40 L506.50,49.97 L508.00,49.54 L509.50,49.11 L511.00,48.70 L512.50,48.29 L514.00,47.88 L515.50,47.49 L517.00,47.10 L518.50,46.72 L520.00,46.35 L520.00,49.68 L518.50,50.05 L517.00,50.43 L515.50,50.81 L514.00,51.19 L512.50,51.59 L511.00,51.98 L509.50,52.38 L508.00,52.79 L506.50,53.19 L505.00,53.61 L503.50,54.02 L502.00,54.44 L500.50,54.89 L499.00,55.39 L497.50,55.90 L496.00,56.40 L494.50,56.90 L493.00,57.40 L491.50,57.90 L490.00,58.50 L488.50,59.14 L487.00,59.78 L485.50,60.43 L484.00,61.11 L482.50,61.68 L481.00,62.27 L479.50,62.86 L478.00,63.45 L476.50,64.05 L475.00,64.59 L473.50,65.10 L472.00,65.61 L470.50,66.13 L469.00,66.64 L467.50,67.16 L466.00,67.69 L464.50,68.20 L463.00,68.71 L461.50,69.23 L460.00,69.76 L458.50,70.29 L457.00,70.82 L455.50,71.36 L454.00,71.91 L452.50,72.47 L451.00,73.03 L449.50,73.59 L448.00,74.15 L446.50,74.71 L445.00,75.28 L443.50,75.86 L442.00,76.45 L440.50,77.05 L439.00,77.65 L437.50,78.26 L436.00,78.86 L434.50,79.45 L433.00,80.03 L431.50,80.60 L430.00,81.15 L428.50,81.67 L427.00,82.19 L425.50,82.69 L424.00,83.18 L422.50,83.66 L421.00,84.14 L419.50,84.62 L418.00,85.11 L416.50,85.60 L415.00,86.08 L413.50,86.56 L412.00,87.05 L410.50,87.54 L409.00,88.04 L407.50,88.53 L406.00,89.03 L404.50,89.52 L403.00,90.00 L401.50,90.48 L400.00,90.94 L398.50,91.40 L397.00,91.86 L395.50,92.32 L394.00,92.78 L392.50,93.26 L391.00,93.75 L389.50,94.24 L388.00,94.74 L386.50,95.25 L385.00,95.76 L383.50,96.27 L382.00,96.79 L380.50,97.32 L379.00,97.84 L377.50,98.37 L376.00,98.91 L374.50,99.46 L373.00,100.02 L371.50,100.58 L370.00,101.14 L368.50,101.70 L367.00,102.27 L365.50,102.84 L364.00,103.41 L362.50,103.99 L361.00,104.57 L359.50,105.16 L358.00,105.75 L356.50,106.34 L355.00,106.94 L353.50,107.55 L352.00,108.16 L350.50,108.77 L349.00,109.40 L347.50,110.03 L346.00,110.67 L344.50,111.31 L343.00,111.96 L341.50,112.62 L340.00,113.28 L338.50,113.95 L337.00,114.63 L335.50,115.31 L334.00,115.99 L332.50,116.68 L331.00,117.37 L329.50,118.07 L328.00,118.77 L326.50,119.47 L325.00,120.17 L323.50,120.88 L322.00,121.59 L320.50,122.31 L319.00,123.04 L317.50,123.77 L316.00,124.51 L314.50,125.25 L313.00,125.99 L311.50,126.73 L310.00,127.48 L308.50,128.24 L307.00,129.01 L305.50,129.79 L304.00,130.58 L302.50,131.39 L301.00,132.20 L299.50,133.03 L298.00,133.88 L296.50,134.73 L295.00,135.59 L293.50,136.46 L292.00,137.35 L290.50,138.24 L289.00,139.15 L287.50,140.07 L286.00,141.00Z" fill="#c9c9c9"/>
<path d="M286.00,140.05 L287.50,139.11 L289.00,138.17 L290.50,137.25 L292.00,136.34 L293.50,135.44 L295.00,134.55 L296.50,133.67 L298.00,132.81 L299.50,131.95 L301.00,131.10 L302.50,130.27 L304.00,129.45 L305.50,128.64 L307.00,127.85 L308.50,127.07 L310.00,126.29 L311.50,125.52 L313.00,124.75 L314.50,123.99 L316.00,123.22 L317.50,122.46 L319.00,121.71 L320.50,120.96 L322.00,120.21 L323.50,119.47 L325.00,118.73 L326.50,118.01 L328.00,117.29 L329.50,116.57 L331.00,115.85 L332.50,115.13 L334.00,114.42 L335.50,113.71 L337.00,113.01 L338.50,112.31 L340.00,111.62 L341.50,110.94 L343.00,110.26 L344.50,109.59 L346.00,108.92 L347.50,108.27 L349.00,107.62 L350.50,106.98 L352.00,106.35 L353.50,105.72 L355.00,105.10 L356.50,104.48 L358.00,103.88 L359.50,103.27 L361.00,102.67 L362.50,102.08 L364.00,101.48 L365.50,100.90 L367.00,100.31 L368.50,99.73 L370.00,99.15 L371.50,98.57 L373.00,98.00 L374.50,97.43 L376.00,96.86 L377.50,96.29 L377.50,97.19 L376.00,97.76 L374.50,98.33 L373.00,98.90 L371.50,99.47 L370.00,100.05 L368.50,100.63 L367.00,101.21 L365.50,101.80 L364.00,102.38 L362.50,102.98 L361.00,103.57 L359.50,104.17 L358.00,104.78 L356.50,105.38 L355.00,106.00 L353.50,106.62 L352.00,107.25 L350.50,107.88 L349.00,108.52 L347.50,109.17 L346.00,109.82 L344.50,110.49 L343.00,111.16 L341.50,111.84 L340.00,112.52 L338.50,113.21 L337.00,113.91 L335.50,114.61 L334.00,115.32 L332.50,116.03 L331.00,116.75 L329.50,117.47 L328.00,118.19 L326.50,118.91 L325.00,119.63 L323.50,120.37 L322.00,121.11 L320.50,121.86 L319.00,122.61 L317.50,123.36 L316.00,124.12 L314.50,124.89 L313.00,125.65 L311.50,126.42 L310.00,127.19 L308.50,127.97 L307.00,128.75 L305.50,129.54 L304.00,130.35 L302.50,131.17 L301.00,132.00 L299.50,132.85 L298.00,133.71 L296.50,134.57 L295.00,135.45 L293.50,136.34 L292.00,137.24 L290.50,138.15 L289.00,139.07 L287.50,140.01 L286.00,140.95Z" fill="#92a0b4"/>
<path d="M327.10,115.20V125.20 M324.60,115.20h5 M324.60,125.20h5" stroke="#ff0000" stroke-width="1.4" fill="none"/>
<circle cx="327.10" cy="120.20" r="2.1" fill="#ff0000"/>
<path d="M355.30,101.30V111.30 M352.80,101.30h5 M352.80,111.30h5" stroke="#ff0000" stroke-width="1.4" fill="none"/>
<circle cx="355.30" cy="106.30" r="2.1" fill="#ff0000"/>
<path d="M365.00,97.60V107.60 M362.50,97.60h5 M362.50,107.60h5" stroke="#ff0000" stroke-width="1.4" fill="none"/>
<circle cx="365.00" cy="102.60" r="2.1" fill="#ff0000"/>
<path d="M345.50,104.70V115.90 M343.00,104.70h5 M343.00,115.90h5" stroke="#0000ff" stroke-width="1.4" fill="none"/>
<rect x="343.20" y="107.30" width="4.6" height="6.00" fill="#0000ff"/>
<path d="M400.50,83.20V94.20 M398.00,83.20h5 M398.00,94.20h5" stroke="#0000ff" stroke-width="1.4" fill="none"/>
<rect x="398.20" y="86.40" width="4.6" height="4.60" fill="#0000ff"/>
<circle cx="354.20" cy="105.90" r="2.0" fill="#0a7d0a"/>
<path d="M356.90,100.40V109.20 M354.40,100.40h5 M354.40,109.20h5" stroke="#daa520" stroke-width="1.4" fill="none"/>
<path d="M356.90,102.40 l2.3,3.9 l-4.6,0z" fill="#daa520"/>
<path d="M380.40,93.10V99.70 M377.90,93.10h5 M377.90,99.70h5" stroke="#daa520" stroke-width="1.4" fill="none"/>
<path d="M380.40,94.00 l2.3,3.9 l-4.6,0z" fill="#daa520"/>
<rect x="291.85" y="130.95" width="6.70" height="6.70" fill="#000"/><rect x="295.30" y="132.20" width="2" height="2" fill="#d8d8d8"/><rect x="293.10" y="134.40" width="2" height="2" fill="#d8d8d8"/>
</g>
<g clip-path="url(#cS)">
<path d="M52.00,308.60 L53.50,308.10 L55.00,307.59 L56.50,307.08 L58.00,306.57 L59.50,306.06 L61.00,305.54 L62.50,305.03 L64.00,304.51 L65.50,303.98 L67.00,303.46 L68.50,302.93 L70.00,302.40 L71.50,301.88 L73.00,301.35 L74.50,300.83 L76.00,300.31 L77.50,299.78 L79.00,299.25 L80.50,298.72 L82.00,298.19 L83.50,297.66 L85.00,297.12 L86.50,296.57 L88.00,296.00 L89.50,295.41 L91.00,294.80 L92.50,294.18 L94.00,293.55 L95.50,292.92 L97.00,292.27 L98.50,291.62 L100.00,290.96 L101.50,290.31 L103.00,289.67 L104.50,289.05 L106.00,288.43 L107.50,287.82 L109.00,287.21 L110.50,286.61 L112.00,286.01 L113.50,285.40 L115.00,284.80 L116.50,284.19 L118.00,283.59 L119.50,282.99 L121.00,282.39 L122.50,281.79 L124.00,281.19 L125.50,280.60 L127.00,280.01 L128.50,279.41 L130.00,278.82 L131.50,278.24 L133.00,277.65 L134.50,277.07 L136.00,276.50 L137.50,275.93 L139.00,275.37 L140.50,274.81 L142.00,274.25 L143.50,273.69 L145.00,273.14 L146.50,272.59 L148.00,272.04 L149.50,271.50 L151.00,270.95 L152.50,270.41 L154.00,269.87 L155.50,269.34 L157.00,268.81 L158.50,268.28 L160.00,267.75 L161.50,267.22 L163.00,266.69 L164.50,266.17 L166.00,265.64 L167.50,265.12 L169.00,264.60 L170.50,264.10 L172.00,263.59 L173.50,263.10 L175.00,262.61 L176.50,262.13 L178.00,261.64 L179.50,261.16 L181.00,260.67 L182.50,260.18 L184.00,259.68 L185.50,259.17 L187.00,258.65 L188.50,258.12 L190.00,257.58 L191.50,257.03 L193.00,256.48 L194.50,255.92 L196.00,255.35 L197.50,254.77 L199.00,254.19 L200.50,253.61 L202.00,253.02 L203.50,252.43 L205.00,251.84 L206.50,251.25 L208.00,250.65 L209.50,250.06 L211.00,249.46 L212.50,248.86 L214.00,248.25 L215.50,247.64 L217.00,247.02 L218.50,246.40 L220.00,245.78 L221.50,245.15 L223.00,244.53 L224.50,243.90 L226.00,243.28 L227.50,242.66 L229.00,242.04 L230.50,241.43 L232.00,240.82 L233.50,240.22 L235.00,239.63 L236.50,239.04 L238.00,238.45 L239.50,237.87 L241.00,237.30 L242.50,236.73 L244.00,236.15 L245.50,235.58 L247.00,235.02 L248.50,234.45 L250.00,233.88 L251.50,233.30 L253.00,232.73 L254.50,232.15 L256.00,231.57 L257.50,230.99 L259.00,230.40 L260.50,229.82 L262.00,229.23 L263.50,228.64 L265.00,228.05 L266.50,227.46 L268.00,226.87 L269.50,226.28 L271.00,225.68 L272.50,225.09 L274.00,224.50 L275.50,223.90 L277.00,223.30 L278.50,222.71 L280.00,222.11 L281.50,221.51 L283.00,220.91 L284.50,220.30 L286.00,219.70" fill="none" stroke="#000" stroke-width="1.6" stroke-dasharray="4.8,1.1,1.3,1.1"/>
<path d="M52.00,312.90 L53.50,311.79 L55.00,310.76 L56.50,309.79 L58.00,308.90 L59.50,308.10 L61.00,307.30 L62.50,306.46 L64.00,305.61 L65.50,304.73 L67.00,303.82 L68.50,302.91 L70.00,302.00 L71.50,301.10 L73.00,300.20 L74.50,299.30 L76.00,298.39 L77.50,297.48 L79.00,296.58 L80.50,295.72 L82.00,294.88 L83.50,294.07 L85.00,293.30 L86.50,292.60 L88.00,291.90 L89.50,291.12 L91.00,290.28 L92.50,289.43 L94.00,288.59 L95.50,287.80 L97.00,287.04 L98.50,286.30 L100.00,285.58 L101.50,284.86 L103.00,284.16 L104.50,283.46 L106.00,282.77 L107.50,282.09 L109.00,281.43 L110.50,280.79 L112.00,280.16 L113.50,279.54 L115.00,278.93 L116.50,278.34 L118.00,277.77 L119.50,277.21 L121.00,276.67 L122.50,276.13 L124.00,275.61 L125.50,275.10 L127.00,274.60 L128.50,274.12 L130.00,273.64 L131.50,273.18 L133.00,272.72 L134.50,272.27 L136.00,271.83 L137.50,271.40 L139.00,270.98 L140.50,270.56 L142.00,270.14 L143.50,269.74 L145.00,269.34 L146.50,268.94 L148.00,268.55 L149.50,268.17 L151.00,267.79 L152.50,267.42 L154.00,267.05 L155.50,266.68 L157.00,266.31 L158.50,265.95 L160.00,265.59 L161.50,265.24 L163.00,264.89 L164.50,264.54 L166.00,264.20 L167.50,263.86 L169.00,263.51 L170.50,263.17 L172.00,262.82 L173.50,262.48 L175.00,262.14 L176.50,261.80 L178.00,261.46 L179.50,261.13 L181.00,260.81 L182.50,260.49 L184.00,260.18 L185.50,259.88 L187.00,259.59 L188.50,259.31 L190.00,259.03 L191.50,258.77 L193.00,258.51 L194.50,258.25 L196.00,258.00 L197.50,257.75 L199.00,257.51 L200.50,257.27 L202.00,257.04 L203.50,256.81 L205.00,256.58 L206.50,256.35 L208.00,256.13 L209.50,255.91 L211.00,255.69 L212.50,255.46 L214.00,255.24 L215.50,255.01 L217.00,254.78 L218.50,254.56 L220.00,254.33 L221.50,254.11 L223.00,253.90 L224.50,253.69 L226.00,253.49 L227.50,253.29 L229.00,253.11 L230.50,252.94 L232.00,252.78 L233.50,252.63 L235.00,252.49 L236.50,252.36 L238.00,252.23 L239.50,252.11 L241.00,251.99 L242.50,251.87 L244.00,251.76 L245.50,251.65 L247.00,251.55 L248.50,251.45 L250.00,251.36 L251.50,251.27 L253.00,251.19 L254.50,251.11 L256.00,251.03 L257.50,250.96 L259.00,250.89 L260.50,250.83 L262.00,250.76 L263.50,250.69 L265.00,250.63 L266.50,250.57 L268.00,250.51 L269.50,250.45 L271.00,250.39 L272.50,250.34 L274.00,250.29 L275.50,250.24 L277.00,250.20 L278.50,250.15 L280.00,250.12 L281.50,250.08 L283.00,250.05 L284.50,250.02 L286.00,250.00" fill="none" stroke="#000" stroke-width="1.6" stroke-dasharray="3.7,1.3"/>
<path d="M52.00,305.90 L53.50,305.38 L55.00,304.86 L56.50,304.33 L58.00,303.80 L59.50,303.26 L61.00,302.71 L62.50,302.15 L64.00,301.58 L65.50,300.99 L67.00,300.42 L68.50,299.86 L70.00,299.32 L71.50,298.81 L73.00,298.30 L74.50,297.80 L76.00,297.32 L77.50,296.84 L79.00,296.36 L80.50,295.89 L82.00,295.42 L83.50,294.97 L85.00,294.52 L86.50,294.10 L88.00,293.67 L89.50,293.13 L91.00,292.51 L92.50,291.84 L94.00,291.12 L95.50,290.38 L97.00,289.63 L98.50,288.88 L100.00,288.15 L101.50,287.46 L103.00,286.81 L104.50,286.20 L106.00,285.59 L107.50,285.00 L109.00,284.41 L110.50,283.84 L112.00,283.27 L113.50,282.73 L115.00,282.19 L116.50,281.66 L118.00,281.14 L119.50,280.63 L121.00,280.14 L122.50,279.66 L124.00,279.19 L125.50,278.72 L127.00,278.25 L128.50,277.79 L130.00,277.34 L131.50,276.89 L133.00,276.44 L134.50,276.00 L136.00,275.56 L137.50,275.12 L139.00,274.69 L140.50,274.25 L142.00,273.81 L143.50,273.36 L145.00,272.90 L146.50,272.44 L148.00,271.98 L149.50,271.51 L151.00,271.04 L152.50,270.57 L154.00,270.09 L155.50,269.61 L157.00,269.13 L158.50,268.66 L160.00,268.18 L161.50,267.71 L163.00,267.24 L164.50,266.78 L166.00,266.32 L167.50,265.87 L169.00,265.42 L170.50,264.98 L172.00,264.55 L173.50,264.12 L175.00,263.69 L176.50,263.26 L178.00,262.83 L179.50,262.40 L181.00,261.96 L182.50,261.54 L184.00,261.12 L185.50,260.71 L187.00,260.28 L188.50,259.85 L190.00,259.41 L191.50,258.96 L193.00,258.51 L194.50,258.05 L196.00,257.59 L197.50,257.13 L199.00,256.66 L200.50,256.19 L202.00,255.73 L203.50,255.26 L205.00,254.79 L206.50,254.32 L208.00,253.85 L209.50,253.39 L211.00,252.93 L212.50,252.48 L214.00,252.02 L215.50,251.56 L217.00,251.09 L218.50,250.63 L220.00,250.17 L221.50,249.71 L223.00,249.25 L224.50,248.78 L226.00,248.32 L227.50,247.85 L229.00,247.40 L230.50,246.94 L232.00,246.49 L233.50,246.04 L235.00,245.60 L236.50,245.16 L238.00,244.72 L239.50,244.28 L241.00,243.85 L242.50,243.41 L244.00,242.98 L245.50,242.56 L247.00,242.13 L248.50,241.71 L250.00,241.29 L251.50,240.88 L253.00,240.43 L254.50,239.96 L256.00,239.50 L257.50,239.04 L259.00,238.58 L260.50,238.12 L262.00,237.67 L263.50,237.21 L265.00,236.76 L266.50,236.32 L268.00,235.86 L269.50,235.40 L271.00,234.94 L272.50,234.49 L274.00,234.03 L275.50,233.58 L277.00,233.13 L278.50,232.69 L280.00,232.25 L281.50,231.80 L283.00,231.37 L284.50,230.93 L286.00,230.50 L286.00,239.50 L284.50,239.76 L283.00,240.02 L281.50,240.28 L280.00,240.55 L278.50,240.82 L277.00,241.09 L275.50,241.37 L274.00,241.64 L272.50,241.92 L271.00,242.20 L269.50,242.49 L268.00,242.78 L266.50,243.07 L265.00,243.38 L263.50,243.69 L262.00,244.00 L260.50,244.31 L259.00,244.63 L257.50,244.95 L256.00,245.27 L254.50,245.59 L253.00,245.92 L251.50,246.27 L250.00,246.66 L248.50,247.05 L247.00,247.45 L245.50,247.85 L244.00,248.25 L242.50,248.65 L241.00,249.06 L239.50,249.47 L238.00,249.88 L236.50,250.30 L235.00,250.71 L233.50,251.13 L232.00,251.55 L230.50,251.98 L229.00,252.41 L227.50,252.85 L226.00,253.28 L224.50,253.72 L223.00,254.17 L221.50,254.61 L220.00,255.07 L218.50,255.53 L217.00,255.98 L215.50,256.44 L214.00,256.90 L212.50,257.35 L211.00,257.81 L209.50,258.26 L208.00,258.72 L206.50,259.18 L205.00,259.64 L203.50,260.11 L202.00,260.58 L200.50,261.04 L199.00,261.50 L197.50,261.97 L196.00,262.43 L194.50,262.88 L193.00,263.34 L191.50,263.79 L190.00,264.23 L188.50,264.66 L187.00,265.09 L185.50,265.51 L184.00,265.93 L182.50,266.34 L181.00,266.72 L179.50,267.10 L178.00,267.47 L176.50,267.84 L175.00,268.21 L173.50,268.58 L172.00,268.95 L170.50,269.32 L169.00,269.70 L167.50,270.09 L166.00,270.48 L164.50,270.88 L163.00,271.28 L161.50,271.69 L160.00,272.10 L158.50,272.52 L157.00,272.93 L155.50,273.35 L154.00,273.77 L152.50,274.19 L151.00,274.60 L149.50,275.01 L148.00,275.42 L146.50,275.82 L145.00,276.22 L143.50,276.62 L142.00,277.01 L140.50,277.42 L139.00,277.83 L137.50,278.23 L136.00,278.64 L134.50,279.05 L133.00,279.46 L131.50,279.88 L130.00,280.30 L128.50,280.72 L127.00,281.15 L125.50,281.59 L124.00,282.03 L122.50,282.47 L121.00,282.92 L119.50,283.38 L118.00,283.86 L116.50,284.35 L115.00,284.85 L113.50,285.36 L112.00,285.87 L110.50,286.39 L109.00,286.92 L107.50,287.46 L106.00,288.01 L104.50,288.57 L103.00,289.14 L101.50,289.74 L100.00,290.39 L98.50,291.08 L97.00,291.78 L95.50,292.49 L94.00,293.18 L92.50,293.85 L91.00,294.48 L89.50,295.04 L88.00,295.53 L86.50,295.92 L85.00,296.28 L83.50,296.68 L82.00,297.09 L80.50,297.50 L79.00,297.92 L77.50,298.35 L76.00,298.80 L74.50,299.25 L73.00,299.72 L71.50,300.20 L70.00,300.68 L68.50,301.19 L67.00,301.72 L65.50,302.26 L64.00,302.82 L62.50,303.36 L61.00,303.89 L59.50,304.41 L58.00,304.92 L56.50,305.42 L55.00,305.92 L53.50,306.41 L52.00,306.90Z" fill="url(#gS)"/>
<path d="M52.00,305.90 L53.50,305.38 L55.00,304.86 L56.50,304.33 L58.00,303.80 L59.50,303.26 L61.00,302.71 L62.50,302.15 L64.00,301.58 L65.50,300.99 L67.00,300.42 L68.50,299.86 L70.00,299.32 L71.50,298.81 L73.00,298.30 L74.50,297.80 L76.00,297.32 L77.50,296.84 L79.00,296.36 L80.50,295.89 L82.00,295.42 L83.50,294.97 L85.00,294.52 L86.50,294.10 L88.00,293.67 L89.50,293.13 L91.00,292.51 L92.50,291.84 L94.00,291.12 L95.50,290.38 L97.00,289.63 L98.50,288.88 L100.00,288.15 L101.50,287.46 L103.00,286.81 L104.50,286.20 L106.00,285.59 L107.50,285.00 L109.00,284.41 L110.50,283.84 L112.00,283.27 L113.50,282.77 L115.00,282.28 L116.50,281.80 L118.00,281.34 L119.50,280.88 L121.00,280.44 L122.50,280.01 L124.00,279.59 L125.50,279.18 L127.00,278.77 L128.50,278.37 L130.00,277.98 L131.50,277.59 L133.00,277.20 L134.50,276.82 L136.00,276.45 L137.50,276.07 L139.00,275.68 L140.50,275.28 L142.00,274.89 L143.50,274.50 L145.00,274.10 L146.50,273.70 L148.00,273.30 L149.50,272.89 L151.00,272.48 L152.50,272.07 L154.00,271.66 L155.50,271.25 L157.00,270.84 L158.50,270.39 L160.00,269.95 L161.50,269.50 L163.00,269.06 L164.50,268.62 L166.00,268.19 L167.50,267.77 L169.00,267.35 L170.50,266.94 L172.00,266.53 L173.50,266.12 L175.00,265.72 L176.50,265.32 L178.00,264.91 L179.50,264.51 L181.00,264.10 L182.50,263.70 L184.00,263.29 L185.50,262.87 L187.00,262.45 L188.50,262.01 L190.00,261.58 L191.50,261.13 L193.00,260.68 L194.50,260.23 L196.00,259.77 L197.50,259.31 L199.00,258.84 L200.50,258.38 L202.00,257.91 L203.50,257.44 L205.00,256.97 L206.50,256.51 L208.00,256.04 L209.50,255.58 L211.00,255.13 L212.50,254.66 L214.00,254.16 L215.50,253.67 L217.00,253.17 L218.50,252.68 L220.00,252.18 L221.50,251.69 L223.00,251.19 L224.50,250.70 L226.00,250.20 L227.50,249.71 L229.00,249.23 L230.50,248.74 L232.00,248.26 L233.50,247.67 L235.00,247.08 L236.50,246.49 L238.00,245.91 L239.50,245.32 L241.00,244.73 L242.50,244.18 L244.00,243.68 L245.50,243.19 L247.00,242.70 L248.50,242.21 L250.00,241.72 L251.50,241.30 L253.00,240.84 L254.50,240.37 L256.00,239.91 L257.50,239.45 L259.00,238.99 L260.50,238.53 L262.00,238.08 L263.50,237.63 L265.00,237.17 L266.50,236.72 L268.00,236.27 L269.50,235.82 L271.00,235.36 L272.50,234.91 L274.00,234.46 L275.50,234.01 L277.00,233.57 L278.50,233.13 L280.00,232.69 L281.50,232.25 L283.00,231.81 L284.50,231.38 L286.00,230.95 L286.00,234.28 L284.50,234.71 L283.00,235.14 L281.50,235.57 L280.00,236.00 L278.50,236.42 L277.00,236.85 L275.50,237.28 L274.00,237.71 L272.50,238.14 L271.00,238.57 L269.50,238.99 L268.00,239.42 L266.50,239.87 L265.00,240.38 L263.50,240.88 L262.00,241.37 L260.50,241.86 L259.00,242.35 L257.50,242.84 L256.00,243.41 L254.50,244.02 L253.00,244.62 L251.50,245.23 L250.00,245.85 L248.50,246.37 L247.00,246.89 L245.50,247.41 L244.00,247.93 L242.50,248.46 L241.00,248.92 L239.50,249.35 L238.00,249.79 L236.50,250.23 L235.00,250.67 L233.50,251.11 L232.00,251.55 L230.50,251.98 L229.00,252.41 L227.50,252.85 L226.00,253.28 L224.50,253.72 L223.00,254.17 L221.50,254.61 L220.00,255.07 L218.50,255.53 L217.00,255.98 L215.50,256.44 L214.00,256.90 L212.50,257.35 L211.00,257.81 L209.50,258.26 L208.00,258.72 L206.50,259.18 L205.00,259.64 L203.50,260.11 L202.00,260.58 L200.50,261.04 L199.00,261.50 L197.50,261.97 L196.00,262.43 L194.50,262.88 L193.00,263.34 L191.50,263.79 L190.00,264.23 L188.50,264.66 L187.00,265.09 L185.50,265.51 L184.00,265.93 L182.50,266.34 L181.00,266.72 L179.50,267.10 L178.00,267.47 L176.50,267.84 L175.00,268.21 L173.50,268.58 L172.00,268.95 L170.50,269.32 L169.00,269.70 L167.50,270.09 L166.00,270.48 L164.50,270.88 L163.00,271.28 L161.50,271.69 L160.00,272.10 L158.50,272.52 L157.00,272.93 L155.50,273.35 L154.00,273.77 L152.50,274.19 L151.00,274.60 L149.50,275.01 L148.00,275.42 L146.50,275.82 L145.00,276.22 L143.50,276.62 L142.00,277.01 L140.50,277.42 L139.00,277.83 L137.50,278.23 L136.00,278.64 L134.50,279.05 L133.00,279.46 L131.50,279.88 L130.00,280.30 L128.50,280.72 L127.00,281.15 L125.50,281.59 L124.00,282.03 L122.50,282.47 L121.00,282.92 L119.50,283.38 L118.00,283.86 L116.50,284.35 L115.00,284.85 L113.50,285.36 L112.00,285.87 L110.50,286.39 L109.00,286.92 L107.50,287.46 L106.00,288.01 L104.50,288.57 L103.00,289.14 L101.50,289.74 L100.00,290.39 L98.50,291.08 L97.00,291.78 L95.50,292.49 L94.00,293.18 L92.50,293.85 L91.00,294.48 L89.50,295.04 L88.00,295.53 L86.50,295.92 L85.00,296.28 L83.50,296.68 L82.00,297.09 L80.50,297.50 L79.00,297.92 L77.50,298.35 L76.00,298.80 L74.50,299.25 L73.00,299.72 L71.50,300.20 L70.00,300.68 L68.50,301.19 L67.00,301.72 L65.50,302.26 L64.00,302.82 L62.50,303.36 L61.00,303.89 L59.50,304.41 L58.00,304.92 L56.50,305.42 L55.00,305.92 L53.50,306.41 L52.00,306.90Z" fill="#c9c9c9"/>
<path d="M52.00,305.95 L53.50,305.45 L55.00,304.94 L56.50,304.42 L58.00,303.91 L59.50,303.38 L61.00,302.85 L62.50,302.31 L64.00,301.75 L65.50,301.18 L67.00,300.62 L68.50,300.07 L70.00,299.55 L71.50,299.05 L73.00,298.56 L74.50,298.08 L76.00,297.61 L77.50,297.15 L79.00,296.69 L80.50,296.25 L82.00,295.81 L83.50,295.37 L85.00,294.95 L86.50,294.56 L88.00,294.15 L89.50,293.63 L91.00,293.04 L92.50,292.40 L94.00,291.70 L95.50,290.99 L97.00,290.25 L98.50,289.53 L100.00,288.82 L101.50,288.15 L103.00,287.53 L104.50,286.94 L106.00,286.35 L107.50,285.78 L109.00,285.22 L110.50,284.67 L112.00,284.12 L113.50,283.59 L115.00,283.07 L116.50,282.55 L118.00,282.05 L119.50,281.56 L121.00,281.08 L122.50,280.61 L124.00,280.16 L125.50,279.70 L127.00,279.25 L128.50,278.81 L130.00,278.37 L131.50,277.93 L133.00,277.50 L134.50,277.08 L136.00,276.65 L137.50,276.23 L139.00,275.81 L140.50,275.39 L142.00,274.96 L143.50,274.54 L143.50,275.44 L142.00,275.86 L140.50,276.29 L139.00,276.71 L137.50,277.13 L136.00,277.55 L134.50,277.98 L133.00,278.40 L131.50,278.83 L130.00,279.27 L128.50,279.71 L127.00,280.15 L125.50,280.60 L124.00,281.06 L122.50,281.51 L121.00,281.98 L119.50,282.46 L118.00,282.95 L116.50,283.45 L115.00,283.97 L113.50,284.49 L112.00,285.02 L110.50,285.57 L109.00,286.12 L107.50,286.68 L106.00,287.25 L104.50,287.84 L103.00,288.43 L101.50,289.05 L100.00,289.72 L98.50,290.43 L97.00,291.15 L95.50,291.89 L94.00,292.60 L92.50,293.30 L91.00,293.94 L89.50,294.53 L88.00,295.05 L86.50,295.46 L85.00,295.85 L83.50,296.27 L82.00,296.71 L80.50,297.15 L79.00,297.59 L77.50,298.05 L76.00,298.51 L74.50,298.98 L73.00,299.46 L71.50,299.95 L70.00,300.45 L68.50,300.97 L67.00,301.52 L65.50,302.08 L64.00,302.65 L62.50,303.21 L61.00,303.75 L59.50,304.28 L58.00,304.81 L56.50,305.32 L55.00,305.84 L53.50,306.35 L52.00,306.85Z" fill="#92a0b4"/>
<path d="M93.00,285.40V294.60 M90.50,285.40h5 M90.50,294.60h5" stroke="#ff0000" stroke-width="1.4" fill="none"/>
<circle cx="93.00" cy="290.00" r="2.1" fill="#ff0000"/>
<path d="M120.90,275.50V285.50 M118.40,275.50h5 M118.40,285.50h5" stroke="#ff0000" stroke-width="1.4" fill="none"/>
<circle cx="120.90" cy="280.50" r="2.1" fill="#ff0000"/>
<path d="M131.10,272.70V282.30 M128.60,272.70h5 M128.60,282.30h5" stroke="#ff0000" stroke-width="1.4" fill="none"/>
<circle cx="131.10" cy="277.50" r="2.1" fill="#ff0000"/>
<path d="M111.50,278.10V289.50 M109.00,278.10h5 M109.00,289.50h5" stroke="#0000ff" stroke-width="1.4" fill="none"/>
<rect x="109.20" y="280.80" width="4.6" height="6.00" fill="#0000ff"/>
<path d="M166.80,261.50V273.30 M164.30,261.50h5 M164.30,273.30h5" stroke="#0000ff" stroke-width="1.4" fill="none"/>
<rect x="164.50" y="264.90" width="4.6" height="5.00" fill="#0000ff"/>
<circle cx="119.90" cy="280.80" r="2.0" fill="#0a7d0a"/>
<path d="M122.90,276.10V284.50 M120.40,276.10h5 M120.40,284.50h5" stroke="#daa520" stroke-width="1.4" fill="none"/>
<path d="M122.90,277.90 l2.3,3.9 l-4.6,0z" fill="#daa520"/>
<path d="M146.60,269.10V277.10 M144.10,269.10h5 M144.10,277.10h5" stroke="#daa520" stroke-width="1.4" fill="none"/>
<path d="M146.60,270.70 l2.3,3.9 l-4.6,0z" fill="#daa520"/>
<rect x="57.65" y="299.55" width="6.70" height="6.70" fill="#000"/><rect x="61.10" y="300.80" width="2" height="2" fill="#d8d8d8"/><rect x="58.90" y="303.00" width="2" height="2" fill="#d8d8d8"/>
</g>
<g clip-path="url(#cX)">
<path d="M286.00,286.10 L287.50,285.68 L289.00,285.26 L290.50,284.84 L292.00,284.42 L293.50,284.01 L295.00,283.59 L296.50,283.17 L298.00,282.76 L299.50,282.34 L301.00,281.93 L302.50,281.51 L304.00,281.10 L305.50,280.69 L307.00,280.28 L308.50,279.87 L310.00,279.46 L311.50,279.05 L313.00,278.64 L314.50,278.23 L316.00,277.83 L317.50,277.42 L319.00,277.01 L320.50,276.60 L322.00,276.20 L323.50,275.79 L325.00,275.37 L326.50,274.96 L328.00,274.55 L329.50,274.14 L331.00,273.73 L332.50,273.33 L334.00,272.92 L335.50,272.51 L337.00,272.10 L338.50,271.69 L340.00,271.28 L341.50,270.86 L343.00,270.44 L344.50,270.01 L346.00,269.58 L347.50,269.15 L349.00,268.70 L350.50,268.25 L352.00,267.79 L353.50,267.32 L355.00,266.85 L356.50,266.38 L358.00,265.91 L359.50,265.45 L361.00,264.99 L362.50,264.53 L364.00,264.07 L365.50,263.62 L367.00,263.17 L368.50,262.73 L370.00,262.30 L371.50,261.89 L373.00,261.49 L374.50,261.10 L376.00,260.72 L377.50,260.34 L379.00,259.97 L380.50,259.59 L382.00,259.20 L383.50,258.81 L385.00,258.43 L386.50,258.05 L388.00,257.66 L389.50,257.27 L391.00,256.87 L392.50,256.46 L394.00,256.04 L395.50,255.61 L397.00,255.17 L398.50,254.73 L400.00,254.28 L401.50,253.84 L403.00,253.39 L404.50,252.95 L406.00,252.50 L407.50,252.05 L409.00,251.59 L410.50,251.14 L412.00,250.68 L413.50,250.23 L415.00,249.77 L416.50,249.32 L418.00,248.87 L419.50,248.43 L421.00,247.98 L422.50,247.54 L424.00,247.11 L425.50,246.68 L427.00,246.26 L428.50,245.84 L430.00,245.42 L431.50,245.00 L433.00,244.58 L434.50,244.17 L436.00,243.76 L437.50,243.34 L439.00,242.93 L440.50,242.51 L442.00,242.10 L443.50,241.68 L445.00,241.25 L446.50,240.83 L448.00,240.40 L449.50,239.96 L451.00,239.51 L452.50,239.06 L454.00,238.61 L455.50,238.16 L457.00,237.71 L458.50,237.26 L460.00,236.82 L461.50,236.39 L463.00,235.96 L464.50,235.54 L466.00,235.13 L467.50,234.73 L469.00,234.35 L470.50,233.98 L472.00,233.63 L473.50,233.28 L475.00,232.95 L476.50,232.63 L478.00,232.30 L479.50,231.99 L481.00,231.67 L482.50,231.36 L484.00,231.04 L485.50,230.72 L487.00,230.39 L488.50,230.05 L490.00,229.71 L491.50,229.35 L493.00,228.98 L494.50,228.61 L496.00,228.23 L497.50,227.85 L499.00,227.46 L500.50,227.07 L502.00,226.68 L503.50,226.28 L505.00,225.88 L506.50,225.47 L508.00,225.06 L509.50,224.64 L511.00,224.22 L512.50,223.79 L514.00,223.36 L515.50,222.93 L517.00,222.49 L518.50,222.05 L520.00,221.60" fill="none" stroke="#000" stroke-width="1.6" stroke-dasharray="4.8,1.1,1.3,1.1"/>
<path d="M286.00,276.40 L287.50,275.99 L289.00,275.59 L290.50,275.19 L292.00,274.80 L293.50,274.41 L295.00,274.02 L296.50,273.65 L298.00,273.27 L299.50,272.91 L301.00,272.55 L302.50,272.19 L304.00,271.85 L305.50,271.50 L307.00,271.16 L308.50,270.82 L310.00,270.48 L311.50,270.14 L313.00,269.79 L314.50,269.44 L316.00,269.08 L317.50,268.72 L319.00,268.36 L320.50,268.01 L322.00,267.66 L323.50,267.31 L325.00,266.98 L326.50,266.64 L328.00,266.30 L329.50,265.97 L331.00,265.63 L332.50,265.31 L334.00,265.00 L335.50,264.69 L337.00,264.41 L338.50,264.13 L340.00,263.88 L341.50,263.64 L343.00,263.41 L344.50,263.20 L346.00,262.98 L347.50,262.77 L349.00,262.56 L350.50,262.35 L352.00,262.15 L353.50,261.94 L355.00,261.74 L356.50,261.55 L358.00,261.35 L359.50,261.16 L361.00,260.97 L362.50,260.78 L364.00,260.60 L365.50,260.42 L367.00,260.25 L368.50,260.08 L370.00,259.90 L371.50,259.71 L373.00,259.52 L374.50,259.33 L376.00,259.13 L377.50,258.92 L379.00,258.72 L380.50,258.51 L382.00,258.30 L383.50,258.08 L385.00,257.86 L386.50,257.63 L388.00,257.40 L389.50,257.17 L391.00,256.94 L392.50,256.73 L394.00,256.51 L395.50,256.29 L397.00,256.08 L398.50,255.87 L400.00,255.67 L401.50,255.49 L403.00,255.32 L404.50,255.17 L406.00,255.02 L407.50,254.88 L409.00,254.74 L410.50,254.60 L412.00,254.47 L413.50,254.35 L415.00,254.23 L416.50,254.11 L418.00,253.99 L419.50,253.87 L421.00,253.75 L422.50,253.64 L424.00,253.52 L425.50,253.41 L427.00,253.29 L428.50,253.18 L430.00,253.07 L431.50,252.96 L433.00,252.85 L434.50,252.75 L436.00,252.64 L437.50,252.54 L439.00,252.44 L440.50,252.34 L442.00,252.24 L443.50,252.15 L445.00,252.05 L446.50,251.96 L448.00,251.87 L449.50,251.79 L451.00,251.70 L452.50,251.61 L454.00,251.52 L455.50,251.44 L457.00,251.36 L458.50,251.28 L460.00,251.20 L461.50,251.12 L463.00,251.05 L464.50,250.98 L466.00,250.91 L467.50,250.85 L469.00,250.79 L470.50,250.74 L472.00,250.68 L473.50,250.63 L475.00,250.57 L476.50,250.52 L478.00,250.47 L479.50,250.43 L481.00,250.38 L482.50,250.34 L484.00,250.29 L485.50,250.25 L487.00,250.21 L488.50,250.18 L490.00,250.14 L491.50,250.10 L493.00,250.07 L494.50,250.04 L496.00,250.00 L497.50,249.97 L499.00,249.94 L500.50,249.91 L502.00,249.88 L503.50,249.85 L505.00,249.82 L506.50,249.80 L508.00,249.77 L509.50,249.74 L511.00,249.72 L512.50,249.70 L514.00,249.67 L515.50,249.65 L517.00,249.63 L518.50,249.62 L520.00,249.60" fill="none" stroke="#000" stroke-width="1.6" stroke-dasharray="3.7,1.3"/>
<path d="M286.00,277.40 L287.50,277.21 L289.00,277.02 L290.50,276.83 L292.00,276.64 L293.50,276.45 L295.00,276.26 L296.50,276.07 L298.00,275.88 L299.50,275.69 L301.00,275.50 L302.50,275.31 L304.00,275.12 L305.50,274.93 L307.00,274.75 L308.50,274.58 L310.00,274.41 L311.50,274.23 L313.00,274.05 L314.50,273.87 L316.00,273.68 L317.50,273.49 L319.00,273.29 L320.50,273.08 L322.00,272.86 L323.50,272.62 L325.00,272.38 L326.50,272.11 L328.00,271.79 L329.50,271.43 L331.00,271.03 L332.50,270.63 L334.00,270.24 L335.50,269.86 L337.00,269.53 L338.50,269.21 L340.00,268.91 L341.50,268.61 L343.00,268.31 L344.50,268.01 L346.00,267.71 L347.50,267.39 L349.00,267.05 L350.50,266.70 L352.00,266.34 L353.50,265.96 L355.00,265.58 L356.50,265.18 L358.00,264.79 L359.50,264.39 L361.00,263.99 L362.50,263.59 L364.00,263.21 L365.50,262.83 L367.00,262.46 L368.50,262.10 L370.00,261.76 L371.50,261.44 L373.00,261.13 L374.50,260.83 L376.00,260.54 L377.50,260.24 L379.00,259.93 L380.50,259.61 L382.00,259.28 L383.50,258.94 L385.00,258.59 L386.50,258.23 L388.00,257.87 L389.50,257.50 L391.00,257.13 L392.50,256.75 L394.00,256.37 L395.50,255.97 L397.00,255.57 L398.50,255.17 L400.00,254.77 L401.50,254.38 L403.00,253.99 L404.50,253.61 L406.00,253.22 L407.50,252.83 L409.00,252.44 L410.50,252.05 L412.00,251.67 L413.50,251.29 L415.00,250.92 L416.50,250.56 L418.00,250.22 L419.50,249.90 L421.00,249.59 L422.50,249.29 L424.00,249.00 L425.50,248.72 L427.00,248.45 L428.50,248.19 L430.00,247.94 L431.50,247.69 L433.00,247.45 L434.50,247.21 L436.00,246.97 L437.50,246.73 L439.00,246.49 L440.50,246.25 L442.00,246.01 L443.50,245.77 L445.00,245.52 L446.50,245.26 L448.00,245.00 L449.50,244.74 L451.00,244.48 L452.50,244.21 L454.00,243.94 L455.50,243.68 L457.00,243.40 L458.50,243.13 L460.00,242.85 L461.50,242.57 L463.00,242.30 L464.50,242.02 L466.00,241.75 L467.50,241.48 L469.00,241.21 L470.50,240.94 L472.00,240.66 L473.50,240.39 L475.00,240.11 L476.50,239.83 L478.00,239.56 L479.50,239.28 L481.00,239.01 L482.50,238.75 L484.00,238.48 L485.50,238.23 L487.00,237.94 L488.50,237.64 L490.00,237.35 L491.50,237.07 L493.00,236.80 L494.50,236.53 L496.00,236.26 L497.50,236.00 L499.00,235.74 L500.50,235.48 L502.00,235.21 L503.50,234.95 L505.00,234.68 L506.50,234.43 L508.00,234.17 L509.50,233.92 L511.00,233.67 L512.50,233.43 L514.00,233.19 L515.50,232.96 L517.00,232.74 L518.50,232.52 L520.00,232.30 L520.00,241.30 L518.50,241.34 L517.00,241.39 L515.50,241.44 L514.00,241.50 L512.50,241.56 L511.00,241.63 L509.50,241.70 L508.00,241.78 L506.50,241.86 L505.00,241.95 L503.50,242.04 L502.00,242.13 L500.50,242.23 L499.00,242.35 L497.50,242.47 L496.00,242.60 L494.50,242.72 L493.00,242.85 L491.50,242.98 L490.00,243.12 L488.50,243.27 L487.00,243.43 L485.50,243.62 L484.00,243.85 L482.50,244.09 L481.00,244.33 L479.50,244.58 L478.00,244.83 L476.50,245.08 L475.00,245.33 L473.50,245.58 L472.00,245.83 L470.50,246.08 L469.00,246.32 L467.50,246.57 L466.00,246.81 L464.50,247.06 L463.00,247.31 L461.50,247.56 L460.00,247.81 L458.50,248.07 L457.00,248.32 L455.50,248.58 L454.00,248.84 L452.50,249.10 L451.00,249.36 L449.50,249.62 L448.00,249.88 L446.50,250.14 L445.00,250.39 L443.50,250.63 L442.00,250.88 L440.50,251.11 L439.00,251.35 L437.50,251.58 L436.00,251.82 L434.50,252.05 L433.00,252.29 L431.50,252.53 L430.00,252.77 L428.50,253.02 L427.00,253.28 L425.50,253.55 L424.00,253.82 L422.50,254.10 L421.00,254.40 L419.50,254.71 L418.00,255.03 L416.50,255.36 L415.00,255.68 L413.50,255.99 L412.00,256.31 L410.50,256.63 L409.00,256.96 L407.50,257.29 L406.00,257.62 L404.50,257.95 L403.00,258.27 L401.50,258.60 L400.00,258.93 L398.50,259.27 L397.00,259.61 L395.50,259.95 L394.00,260.29 L392.50,260.61 L391.00,260.93 L389.50,261.24 L388.00,261.55 L386.50,261.85 L385.00,262.15 L383.50,262.44 L382.00,262.72 L380.50,262.99 L379.00,263.25 L377.50,263.50 L376.00,263.74 L374.50,264.00 L373.00,264.27 L371.50,264.55 L370.00,264.84 L368.50,265.15 L367.00,265.48 L365.50,265.82 L364.00,266.17 L362.50,266.52 L361.00,266.89 L359.50,267.26 L358.00,267.63 L356.50,267.99 L355.00,268.36 L353.50,268.71 L352.00,269.06 L350.50,269.39 L349.00,269.71 L347.50,270.02 L346.00,270.31 L344.50,270.57 L343.00,270.82 L341.50,271.08 L340.00,271.33 L338.50,271.59 L337.00,271.86 L335.50,272.15 L334.00,272.48 L332.50,272.83 L331.00,273.18 L329.50,273.53 L328.00,273.85 L326.50,274.12 L325.00,274.34 L323.50,274.54 L322.00,274.73 L320.50,274.90 L319.00,275.06 L317.50,275.21 L316.00,275.35 L314.50,275.49 L313.00,275.62 L311.50,275.75 L310.00,275.89 L308.50,276.03 L307.00,276.17 L305.50,276.32 L304.00,276.48 L302.50,276.64 L301.00,276.80 L299.50,276.96 L298.00,277.12 L296.50,277.28 L295.00,277.44 L293.50,277.60 L292.00,277.76 L290.50,277.92 L289.00,278.08 L287.50,278.24 L286.00,278.40Z" fill="url(#gX)"/>
<path d="M286.00,277.40 L287.50,277.21 L289.00,277.02 L290.50,276.83 L292.00,276.64 L293.50,276.45 L295.00,276.26 L296.50,276.07 L298.00,275.88 L299.50,275.69 L301.00,275.50 L302.50,275.31 L304.00,275.12 L305.50,274.93 L307.00,274.75 L308.50,274.58 L310.00,274.41 L311.50,274.23 L313.00,274.05 L314.50,273.87 L316.00,273.68 L317.50,273.49 L319.00,273.29 L320.50,273.08 L322.00,272.86 L323.50,272.62 L325.00,272.38 L326.50,272.11 L328.00,271.79 L329.50,271.43 L331.00,271.03 L332.50,270.63 L334.00,270.24 L335.50,269.86 L337.00,269.53 L338.50,269.21 L340.00,268.91 L341.50,268.61 L343.00,268.31 L344.50,268.01 L346.00,267.71 L347.50,267.44 L349.00,267.15 L350.50,266.85 L352.00,266.53 L353.50,266.21 L355.00,265.88 L356.50,265.54 L358.00,265.19 L359.50,264.85 L361.00,264.51 L362.50,264.18 L364.00,263.85 L365.50,263.53 L367.00,263.22 L368.50,262.92 L370.00,262.65 L371.50,262.38 L373.00,262.12 L374.50,261.87 L376.00,261.62 L377.50,261.37 L379.00,261.12 L380.50,260.86 L382.00,260.60 L383.50,260.32 L385.00,260.03 L386.50,259.74 L388.00,259.44 L389.50,259.14 L391.00,258.84 L392.50,258.49 L394.00,258.13 L395.50,257.76 L397.00,257.39 L398.50,257.02 L400.00,256.65 L401.50,256.28 L403.00,255.92 L404.50,255.56 L406.00,255.20 L407.50,254.84 L409.00,254.48 L410.50,254.12 L412.00,253.76 L413.50,253.41 L415.00,253.06 L416.50,252.72 L418.00,252.39 L419.50,252.07 L421.00,251.76 L422.50,251.46 L424.00,251.17 L425.50,250.89 L427.00,250.63 L428.50,250.37 L430.00,250.11 L431.50,249.87 L433.00,249.63 L434.50,249.39 L436.00,249.15 L437.50,248.91 L439.00,248.68 L440.50,248.44 L442.00,248.20 L443.50,247.96 L445.00,247.71 L446.50,247.44 L448.00,247.15 L449.50,246.85 L451.00,246.55 L452.50,246.25 L454.00,245.95 L455.50,245.65 L457.00,245.35 L458.50,245.04 L460.00,244.74 L461.50,244.43 L463.00,244.13 L464.50,243.82 L466.00,243.52 L467.50,243.11 L469.00,242.69 L470.50,242.27 L472.00,241.85 L473.50,241.43 L475.00,241.00 L476.50,240.60 L478.00,240.26 L479.50,239.92 L481.00,239.58 L482.50,239.24 L484.00,238.91 L485.50,238.65 L487.00,238.36 L488.50,238.05 L490.00,237.76 L491.50,237.48 L493.00,237.21 L494.50,236.94 L496.00,236.67 L497.50,236.41 L499.00,236.15 L500.50,235.89 L502.00,235.63 L503.50,235.36 L505.00,235.10 L506.50,234.85 L508.00,234.60 L509.50,234.35 L511.00,234.11 L512.50,233.87 L514.00,233.64 L515.50,233.41 L517.00,233.18 L518.50,232.96 L520.00,232.75 L520.00,236.08 L518.50,236.29 L517.00,236.51 L515.50,236.72 L514.00,236.95 L512.50,237.17 L511.00,237.39 L509.50,237.62 L508.00,237.85 L506.50,238.08 L505.00,238.31 L503.50,238.54 L502.00,238.77 L500.50,239.04 L499.00,239.35 L497.50,239.66 L496.00,239.97 L494.50,240.27 L493.00,240.58 L491.50,240.88 L490.00,241.27 L488.50,241.70 L487.00,242.14 L485.50,242.58 L484.00,243.05 L482.50,243.41 L481.00,243.77 L479.50,244.14 L478.00,244.51 L476.50,244.88 L475.00,245.19 L473.50,245.46 L472.00,245.74 L470.50,246.01 L469.00,246.28 L467.50,246.55 L466.00,246.81 L464.50,247.06 L463.00,247.31 L461.50,247.56 L460.00,247.81 L458.50,248.07 L457.00,248.32 L455.50,248.58 L454.00,248.84 L452.50,249.10 L451.00,249.36 L449.50,249.62 L448.00,249.88 L446.50,250.14 L445.00,250.39 L443.50,250.63 L442.00,250.88 L440.50,251.11 L439.00,251.35 L437.50,251.58 L436.00,251.82 L434.50,252.05 L433.00,252.29 L431.50,252.53 L430.00,252.77 L428.50,253.02 L427.00,253.28 L425.50,253.55 L424.00,253.82 L422.50,254.10 L421.00,254.40 L419.50,254.71 L418.00,255.03 L416.50,255.36 L415.00,255.68 L413.50,255.99 L412.00,256.31 L410.50,256.63 L409.00,256.96 L407.50,257.29 L406.00,257.62 L404.50,257.95 L403.00,258.27 L401.50,258.60 L400.00,258.93 L398.50,259.27 L397.00,259.61 L395.50,259.95 L394.00,260.29 L392.50,260.61 L391.00,260.93 L389.50,261.24 L388.00,261.55 L386.50,261.85 L385.00,262.15 L383.50,262.44 L382.00,262.72 L380.50,262.99 L379.00,263.25 L377.50,263.50 L376.00,263.74 L374.50,264.00 L373.00,264.27 L371.50,264.55 L370.00,264.84 L368.50,265.15 L367.00,265.48 L365.50,265.82 L364.00,266.17 L362.50,266.52 L361.00,266.89 L359.50,267.26 L358.00,267.63 L356.50,267.99 L355.00,268.36 L353.50,268.71 L352.00,269.06 L350.50,269.39 L349.00,269.71 L347.50,270.02 L346.00,270.31 L344.50,270.57 L343.00,270.82 L341.50,271.08 L340.00,271.33 L338.50,271.59 L337.00,271.86 L335.50,272.15 L334.00,272.48 L332.50,272.83 L331.00,273.18 L329.50,273.53 L328.00,273.85 L326.50,274.12 L325.00,274.34 L323.50,274.54 L322.00,274.73 L320.50,274.90 L319.00,275.06 L317.50,275.21 L316.00,275.35 L314.50,275.49 L313.00,275.62 L311.50,275.75 L310.00,275.89 L308.50,276.03 L307.00,276.17 L305.50,276.32 L304.00,276.48 L302.50,276.64 L301.00,276.80 L299.50,276.96 L298.00,277.12 L296.50,277.28 L295.00,277.44 L293.50,277.60 L292.00,277.76 L290.50,277.92 L289.00,278.08 L287.50,278.24 L286.00,278.40Z" fill="#c9c9c9"/>
<path d="M286.00,277.45 L287.50,277.28 L289.00,277.10 L290.50,276.93 L292.00,276.75 L293.50,276.58 L295.00,276.40 L296.50,276.23 L298.00,276.05 L299.50,275.88 L301.00,275.70 L302.50,275.53 L304.00,275.35 L305.50,275.18 L307.00,275.01 L308.50,274.85 L310.00,274.70 L311.50,274.54 L313.00,274.39 L314.50,274.23 L316.00,274.07 L317.50,273.90 L319.00,273.72 L320.50,273.54 L322.00,273.34 L323.50,273.13 L325.00,272.91 L326.50,272.66 L328.00,272.37 L329.50,272.03 L331.00,271.66 L332.50,271.28 L334.00,270.91 L335.50,270.56 L337.00,270.24 L338.50,269.95 L340.00,269.67 L341.50,269.39 L343.00,269.12 L344.50,268.84 L346.00,268.56 L347.50,268.25 L349.00,267.93 L350.50,267.60 L352.00,267.25 L353.50,266.89 L355.00,266.52 L356.50,266.14 L358.00,265.76 L359.50,265.37 L361.00,264.99 L362.50,264.61 L364.00,264.24 L365.50,263.87 L367.00,263.52 L368.50,263.18 L370.00,262.85 L371.50,262.54 L373.00,262.25 L374.50,261.97 L376.00,261.69 L377.50,261.42 L377.50,262.32 L376.00,262.59 L374.50,262.87 L373.00,263.15 L371.50,263.44 L370.00,263.75 L368.50,264.08 L367.00,264.42 L365.50,264.77 L364.00,265.14 L362.50,265.51 L361.00,265.89 L359.50,266.27 L358.00,266.66 L356.50,267.04 L355.00,267.42 L353.50,267.79 L352.00,268.15 L350.50,268.50 L349.00,268.83 L347.50,269.15 L346.00,269.46 L344.50,269.74 L343.00,270.02 L341.50,270.29 L340.00,270.57 L338.50,270.85 L337.00,271.14 L335.50,271.46 L334.00,271.81 L332.50,272.18 L331.00,272.56 L329.50,272.93 L328.00,273.27 L326.50,273.56 L325.00,273.81 L323.50,274.03 L322.00,274.24 L320.50,274.44 L319.00,274.62 L317.50,274.80 L316.00,274.97 L314.50,275.13 L313.00,275.29 L311.50,275.44 L310.00,275.60 L308.50,275.75 L307.00,275.91 L305.50,276.08 L304.00,276.25 L302.50,276.43 L301.00,276.60 L299.50,276.78 L298.00,276.95 L296.50,277.13 L295.00,277.30 L293.50,277.48 L292.00,277.65 L290.50,277.83 L289.00,278.00 L287.50,278.18 L286.00,278.35Z" fill="#92a0b4"/>
<path d="M327.10,267.80V278.00 M324.60,267.80h5 M324.60,278.00h5" stroke="#ff0000" stroke-width="1.4" fill="none"/>
<circle cx="327.10" cy="272.90" r="2.1" fill="#ff0000"/>
<path d="M354.80,261.90V271.30 M352.30,261.90h5 M352.30,271.30h5" stroke="#ff0000" stroke-width="1.4" fill="none"/>
<circle cx="354.80" cy="266.60" r="2.1" fill="#ff0000"/>
<path d="M365.10,259.30V269.50 M362.60,259.30h5 M362.60,269.50h5" stroke="#ff0000" stroke-width="1.4" fill="none"/>
<circle cx="365.10" cy="264.40" r="2.1" fill="#ff0000"/>
<path d="M345.40,263.00V275.00 M342.90,263.00h5 M342.90,275.00h5" stroke="#0000ff" stroke-width="1.4" fill="none"/>
<rect x="343.10" y="266.20" width="4.6" height="5.60" fill="#0000ff"/>
<path d="M400.50,251.10V262.90 M398.00,251.10h5 M398.00,262.90h5" stroke="#0000ff" stroke-width="1.4" fill="none"/>
<rect x="398.20" y="254.50" width="4.6" height="5.00" fill="#0000ff"/>
<circle cx="353.80" cy="266.30" r="2.0" fill="#0a7d0a"/>
<path d="M356.90,263.00V269.40 M354.40,263.00h5 M354.40,269.40h5" stroke="#daa520" stroke-width="1.4" fill="none"/>
<path d="M356.90,263.80 l2.3,3.9 l-4.6,0z" fill="#daa520"/>
<path d="M380.50,258.40V265.20 M378.00,258.40h5 M378.00,265.20h5" stroke="#daa520" stroke-width="1.4" fill="none"/>
<path d="M380.50,259.40 l2.3,3.9 l-4.6,0z" fill="#daa520"/>
<rect x="292.15" y="273.95" width="6.70" height="6.70" fill="#000"/><rect x="295.60" y="275.20" width="2" height="2" fill="#d8d8d8"/><rect x="293.40" y="277.40" width="2" height="2" fill="#d8d8d8"/>
</g>
<g stroke="#000" fill="none">
<rect x="52" y="35" width="468" height="328" stroke-width="2"/>
<path d="M286,35V363 M52,199H520" stroke-width="2"/>
</g>
<rect x="305.5" y="291.5" width="195" height="66" fill="#fff" stroke="#cfcfcf" stroke-width="1"/>
<path d="M312.4,298.6H323.4" stroke="#000" stroke-width="1.6" stroke-dasharray="4.6,1.1,1.3,1.1" fill="none"/>
<path d="M312.4,311.8H323.4" stroke="#000" stroke-width="1.6" stroke-dasharray="2.9,1.1" fill="none"/>
<rect x="312.4" y="322" width="10" height="6.6" fill="#70819a"/>
<rect x="312.4" y="335" width="10" height="6.6" fill="#c9c9c9"/>
<rect x="313.95" y="348.15" width="6.70" height="6.70" fill="#000"/><rect x="317.40" y="349.40" width="2" height="2" fill="#d8d8d8"/><rect x="315.20" y="351.60" width="2" height="2" fill="#d8d8d8"/>
<path d="M409.3,298.60H420.5 M409.5,296.50v4.2 M420.3,296.50v4.2" stroke="#ff0000" stroke-width="1.4" fill="none"/>
<circle cx="414.90" cy="298.60" r="2.1" fill="#ff0000"/>
<path d="M409.3,311.80H420.5 M409.5,309.70v4.2 M420.3,309.70v4.2" stroke="#0000ff" stroke-width="1.4" fill="none"/>
<rect x="412.60" y="309.50" width="4.6" height="4.60" fill="#0000ff"/>
<path d="M409.3,325.30H420.5 M409.5,323.20v4.2 M420.3,323.20v4.2" stroke="#0a7d0a" stroke-width="1.4" fill="none"/>
<circle cx="414.90" cy="325.30" r="2.0" fill="#0a7d0a"/>
<path d="M409.3,338.50H420.5 M409.5,336.40v4.2 M420.3,336.40v4.2" stroke="#daa520" stroke-width="1.4" fill="none"/>
<path d="M414.90,336.10 l2.3,3.9 l-4.6,0z" fill="#daa520"/>
<g font-family="'Liberation Serif', serif" fill="#000">
<text transform="translate(329.30,301.90) scale(1.000,1)" font-size="10" text-anchor="start" >Fit-I NLO</text>
<text transform="translate(329.30,315.10) scale(1.000,1)" font-size="10" text-anchor="start" >Fit-I NNLO</text>
<text transform="translate(329.30,329.30) scale(1.000,1)" font-size="10" text-anchor="start" >Fit-I N<tspan font-size="8.5" dy="-4.6">3</tspan><tspan dy="4.6">LO</tspan></text>
<text transform="translate(329.30,342.40) scale(1.000,1)" font-size="10" text-anchor="start" >Fit-II N<tspan font-size="8.5" dy="-4.6">3</tspan><tspan dy="4.6">LO</tspan></text>
<text transform="translate(329.30,355.20) scale(1.000,1)" font-size="10" text-anchor="start" >Expt.</text>
<text transform="translate(426.80,301.90) scale(1.000,1)" font-size="10" text-anchor="start" >PACS-CS</text>
<text transform="translate(426.80,315.10) scale(1.000,1)" font-size="10" text-anchor="start" >LHPC</text>
<text transform="translate(426.80,328.60) scale(1.000,1)" font-size="10" text-anchor="start" >QCDSF-UKQCD</text>
<text transform="translate(426.80,341.80) scale(1.000,1)" font-size="10" text-anchor="start" >HSC</text>
<text transform="translate(45.50,39.60) scale(0.930,1)" font-size="14" text-anchor="end" >1.6</text>
<text transform="translate(45.50,80.60) scale(0.930,1)" font-size="14" text-anchor="end" >1.4</text>
<text transform="translate(45.50,121.60) scale(0.930,1)" font-size="14" text-anchor="end" >1.2</text>
<text transform="translate(45.50,162.60) scale(0.930,1)" font-size="14" text-anchor="end" >1</text>
<text transform="translate(45.50,203.60) scale(0.930,1)" font-size="14" text-anchor="end" >0.8</text>
<text transform="translate(45.50,224.10) scale(0.930,1)" font-size="14" text-anchor="end" >1.6</text>
<text transform="translate(45.50,265.10) scale(0.930,1)" font-size="14" text-anchor="end" >1.4</text>
<text transform="translate(45.50,306.10) scale(0.930,1)" font-size="14" text-anchor="end" >1.2</text>
<text transform="translate(45.50,347.10) scale(0.930,1)" font-size="14" text-anchor="end" >1</text>
<text transform="translate(53.50,379.40) scale(0.930,1)" font-size="14" text-anchor="middle" >0</text>
<text transform="translate(100.30,379.40) scale(0.930,1)" font-size="14" text-anchor="middle" >0.1</text>
<text transform="translate(147.10,379.40) scale(0.930,1)" font-size="14" text-anchor="middle" >0.2</text>
<text transform="translate(193.90,379.40) scale(0.930,1)" font-size="14" text-anchor="middle" >0.3</text>
<text transform="translate(240.70,379.40) scale(0.930,1)" font-size="14" text-anchor="middle" >0.4</text>
<text transform="translate(287.50,379.40) scale(0.930,1)" font-size="14" text-anchor="middle" >0</text>
<text transform="translate(334.30,379.40) scale(0.930,1)" font-size="14" text-anchor="middle" >0.1</text>
<text transform="translate(381.10,379.40) scale(0.930,1)" font-size="14" text-anchor="middle" >0.2</text>
<text transform="translate(427.90,379.40) scale(0.930,1)" font-size="14" text-anchor="middle" >0.3</text>
<text transform="translate(474.70,379.40) scale(0.930,1)" font-size="14" text-anchor="middle" >0.4</text>
<text transform="translate(521.50,379.40) scale(0.930,1)" font-size="14" text-anchor="middle" >0.5</text>
<text transform="translate(67.60,68.10) scale(0.970,1)" font-size="24" text-anchor="start" stroke="#000" stroke-width="0.35">N</text>
<text transform="translate(301.20,67.90) scale(0.870,1)" font-size="24" text-anchor="start" stroke="#000" stroke-width="0.40">Λ</text>
<text transform="translate(67.20,228.30) scale(0.970,1)" font-size="24" text-anchor="start" stroke="#000" stroke-width="0.35">Σ</text>
<text transform="translate(301.80,228.10) scale(0.880,1)" font-size="24" text-anchor="start" stroke="#000" stroke-width="0.80">Ξ</text>
<text transform="translate(260.40,404.70) scale(0.950,1)" font-size="14" text-anchor="start" >M</text>
<text transform="translate(272.70,409.00) scale(1.050,1)" font-size="10" text-anchor="start" font-weight="bold">π</text>
<text transform="translate(279.60,398.00) scale(1.120,1)" font-size="10.5" text-anchor="start" >2</text>
<text transform="translate(296.30,404.70) scale(0.910,1)" font-size="14" text-anchor="start" >[GeV</text>
<text transform="translate(324.60,397.40) scale(1.300,1)" font-size="10.5" text-anchor="start" >2</text>
<text transform="translate(333.30,404.70) scale(0.910,1)" font-size="14" text-anchor="start" >]</text>
<text transform="translate(19.6,294.30) rotate(-90) scale(0.94,1)" font-size="16">Ocetet</text>
<text transform="translate(19.6,248.00) rotate(-90) scale(0.94,1)" font-size="16">Baryon</text>
<text transform="translate(19.6,198.60) rotate(-90) scale(0.94,1)" font-size="16">Masses</text>
<text transform="translate(19.6,135.60) rotate(-90) scale(0.94,1)" font-size="16">[GeV]</text>
</g>
</svg>
</body></html>
